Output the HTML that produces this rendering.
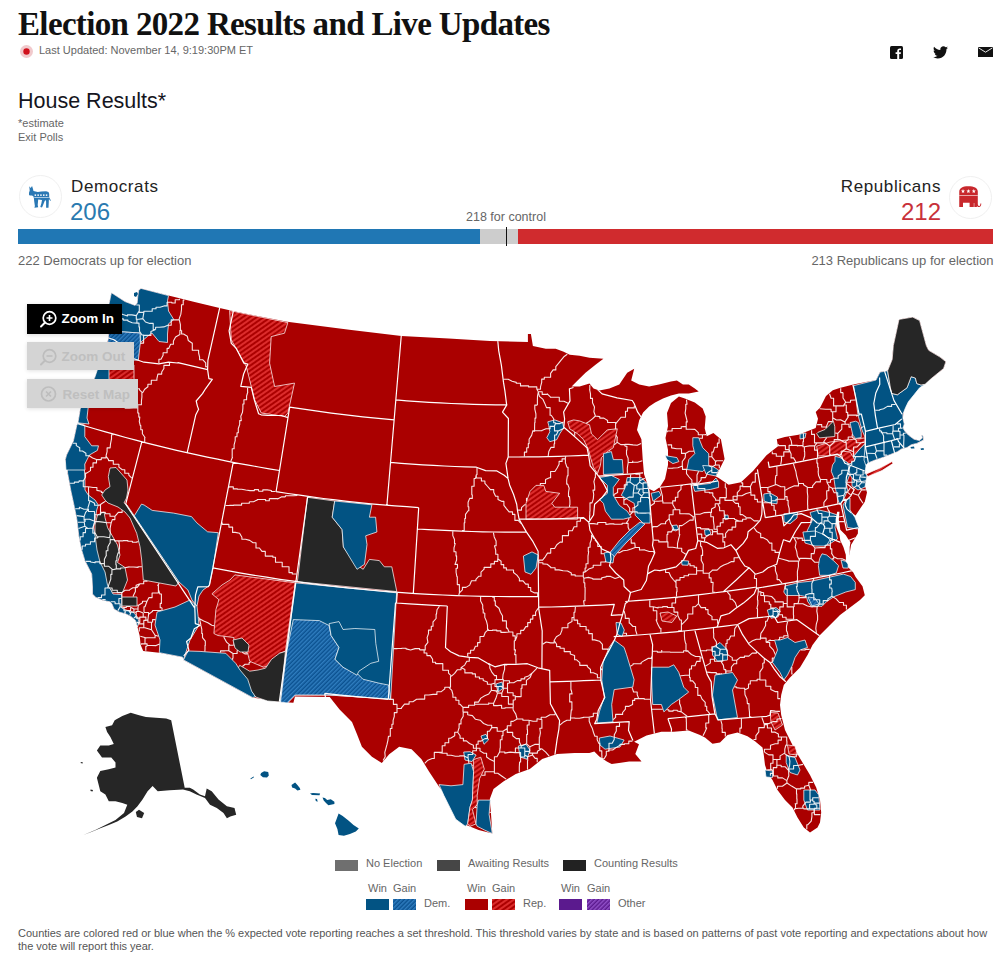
<!DOCTYPE html>
<html><head><meta charset="utf-8">
<style>
*{box-sizing:border-box;margin:0;padding:0}
html,body{width:1007px;height:960px;background:#fff;overflow:hidden}
body{position:relative;font-family:"Liberation Sans",sans-serif;color:#222}
.a{position:absolute;white-space:nowrap;line-height:1}
#map{position:absolute;left:0;top:0;width:1007px;height:960px}
.title{left:18px;top:7.5px;font-family:"Liberation Serif",serif;font-weight:bold;font-size:33px;color:#111;letter-spacing:-0.65px}
.upd{left:39px;top:45px;font-size:11px;color:#666}
.hr{left:18px;top:90.5px;font-size:21.5px;color:#151520}
.sm{font-size:11px;color:#666}
.party{font-size:17px;color:#222;letter-spacing:0.6px}
.num{font-size:24px}
.sub{font-size:13px;color:#666}
.bar{position:absolute;top:229px;height:15px}
.btn{position:absolute;left:27px;height:29px;font-size:14px;line-height:29px;}
.circ{position:absolute;width:43px;height:43px;border-radius:50%;border:1px solid #f0f0f0;background:#fff}
.leg{font-size:11px;color:#666}
.sw{position:absolute;height:11px}
</style></head><body>
<svg id="map" viewBox="0 0 1007 960">
<defs>
<pattern id="rs" patternUnits="userSpaceOnUse" width="4" height="8" patternTransform="rotate(55)"><rect width="4" height="8" fill="#ac0000"/><rect width="2" height="8" fill="#dc2c2c"/></pattern>
<pattern id="bs" patternUnits="userSpaceOnUse" width="3" height="6" patternTransform="rotate(45)"><rect width="3" height="6" fill="#0b5190"/><rect width="1.5" height="6" fill="#2f7dbf"/></pattern>
<pattern id="ps" patternUnits="userSpaceOnUse" width="3" height="6" patternTransform="rotate(45)"><rect width="3" height="6" fill="#5b1a8e"/><rect width="1.5" height="6" fill="#9050c8"/></pattern>
</defs>
<clipPath id="usclip"><path d="M111.4,292.7 L124.9,301.5 L135.2,305.4 L137.2,303.0 L137.8,296.0 L138.8,290.0 L141.0,288.4 L168.5,295.6 L194.6,301.9 L219.6,308.0 L234.0,311.2 L255.0,315.4 L287.2,321.8 L349.3,329.7 L401.4,335.9 L448.6,338.4 L490.0,341.1 L527.9,341.9 L527.9,333.9 L530.9,333.9 L532.9,345.9 L545.8,348.8 L555.7,348.8 L563.7,351.8 L569.7,354.8 L579.6,355.8 L589.5,357.8 L603.4,358.8 L595.5,364.7 L585.5,372.7 L577.6,380.6 L571.6,386.6 L579.6,386.6 L589.5,383.6 L593.5,388.6 L599.4,390.5 L609.4,388.6 L619.3,384.6 L627.2,372.7 L634.2,368.7 L631.2,380.6 L639.2,384.6 L649.1,386.6 L659.0,384.6 L670.9,381.6 L676.9,380.6 L682.9,384.6 L688.8,384.6 L694.8,388.6 L698.7,391.5 L688.8,393.5 L678.9,393.5 L670.9,395.5 L663.0,398.5 L655.1,402.5 L649.1,406.4 L643.1,412.4 L639.2,420.3 L637.0,430.0 L641.4,439.2 L642.7,459.0 L644.0,474.0 L648.9,488.8 L653.9,491.3 L660.0,487.0 L665.0,479.0 L668.0,465.0 L668.0,450.0 L665.5,438.0 L668.0,426.0 L667.0,413.0 L671.0,403.0 L678.9,396.5 L684.8,398.5 L694.8,402.5 L702.7,408.4 L705.7,416.4 L704.7,428.3 L706.7,436.2 L713.4,433.0 L720.9,439.2 L724.6,459.0 L720.9,466.5 L715.9,476.4 L718.7,478.0 L728.6,484.8 L741.0,482.3 L753.0,471.0 L766.5,455.3 L778.0,446.2 L776.8,439.3 L784.8,437.0 L798.5,434.8 L815.7,427.9 L818.0,418.8 L815.7,412.0 L820.2,407.4 L826.0,396.0 L832.8,390.2 L839.6,388.0 L853.3,384.5 L876.0,380.0 L880.0,372.0 L887.6,370.8 L892.2,359.4 L893.3,345.7 L899.0,319.4 L912.7,317.1 L919.6,320.6 L926.4,345.7 L928.7,350.3 L940.1,357.1 L945.9,361.7 L943.6,368.5 L931.0,378.8 L924.2,383.4 L919.6,386.8 L912.7,393.7 L908.2,400.5 L903.6,409.6 L902.9,418.4 L904.3,424.0 L902.9,428.1 L905.7,432.3 L908.4,435.1 L914.0,439.2 L919.6,440.6 L922.3,437.9 L921.5,435.0 L923.0,435.5 L923.5,440.0 L916.8,443.4 L911.2,444.8 L907.0,447.6 L901.5,449.0 L897.3,451.8 L890.4,454.5 L883.4,457.3 L875.1,460.1 L868.1,462.9 L865.3,465.7 L864.8,473.6 L867.0,474.3 L864.8,485.7 L867.0,492.5 L864.8,501.7 L860.2,508.5 L855.6,515.4 L851.0,512.0 L853.3,522.2 L857.9,526.8 L857.9,533.6 L851.0,545.0 L848.8,558.8 L844.2,563.3 L853.3,572.5 L855.6,577.0 L862.5,586.2 L864.8,595.3 L860.0,600.0 L850.0,607.5 L840.0,615.0 L830.0,625.0 L820.0,635.0 L812.5,645.0 L807.5,655.0 L800.0,667.5 L790.0,677.5 L783.8,685.0 L781.2,695.0 L780.0,705.0 L781.2,715.0 L785.0,730.0 L790.0,740.0 L795.0,750.0 L802.5,762.5 L810.0,775.0 L816.2,787.5 L820.0,800.0 L821.2,812.5 L820.0,822.5 L817.5,827.5 L810.0,832.5 L803.8,827.5 L797.5,817.5 L792.5,807.5 L785.0,800.0 L777.5,790.0 L772.5,780.0 L767.5,772.5 L765.0,765.0 L763.8,755.0 L762.5,747.5 L755.0,741.2 L747.5,736.2 L737.5,732.5 L727.5,735.0 L720.0,742.5 L712.5,743.8 L705.0,737.5 L700.0,735.0 L688.7,730.5 L673.8,731.8 L661.4,731.8 L646.5,735.5 L634.1,741.7 L639.0,744.2 L635.3,754.1 L641.5,761.6 L629.1,761.6 L611.7,764.1 L606.8,761.6 L599.3,756.6 L594.3,751.6 L589.4,752.9 L574.5,752.9 L557.1,754.1 L542.2,759.1 L529.8,769.0 L515.8,774.0 L503.4,781.5 L493.5,789.0 L489.8,798.9 L491.0,813.8 L492.3,833.6 L478.6,829.9 L466.2,825.0 L458.7,813.8 L448.8,798.9 L438.9,786.5 L429.0,771.6 L421.5,759.2 L411.6,749.2 L399.2,746.8 L389.2,754.2 L381.8,762.9 L371.9,756.7 L361.9,746.8 L357.0,734.3 L352.0,721.9 L339.6,709.5 L329.7,697.1 L295.0,696.6 L293.4,702.8 L280.9,701.9 L252.3,697.4 L183.5,659.9 L182.6,657.2 L159.3,652.7 L143.2,651.0 L140.6,644.7 L139.7,635.8 L137.5,627.0 L135.5,620.5 L131.0,616.5 L126.0,614.0 L119.0,612.0 L114.0,609.0 L112.0,604.0 L109.9,601.8 L103.0,600.5 L96.0,597.6 L92.5,594.0 L92.5,587.0 L91.7,574.1 L84.8,560.4 L81.3,548.9 L79.0,537.5 L77.9,528.3 L76.8,519.1 L74.5,507.7 L71.0,491.6 L67.6,473.3 L65.3,459.6 L66.5,455.0 L73.3,441.2 L76.8,425.2 L77.9,422.9 L80.2,409.2 L85.0,395.0 L94.6,377.9 L100.0,365.0 L108.0,340.0 L109.0,330.0 L109.0,304.0Z"/></clipPath>
<path d="M111.4,292.7 L124.9,301.5 L135.2,305.4 L137.2,303.0 L137.8,296.0 L138.8,290.0 L141.0,288.4 L168.5,295.6 L194.6,301.9 L219.6,308.0 L234.0,311.2 L255.0,315.4 L287.2,321.8 L349.3,329.7 L401.4,335.9 L448.6,338.4 L490.0,341.1 L527.9,341.9 L527.9,333.9 L530.9,333.9 L532.9,345.9 L545.8,348.8 L555.7,348.8 L563.7,351.8 L569.7,354.8 L579.6,355.8 L589.5,357.8 L603.4,358.8 L595.5,364.7 L585.5,372.7 L577.6,380.6 L571.6,386.6 L579.6,386.6 L589.5,383.6 L593.5,388.6 L599.4,390.5 L609.4,388.6 L619.3,384.6 L627.2,372.7 L634.2,368.7 L631.2,380.6 L639.2,384.6 L649.1,386.6 L659.0,384.6 L670.9,381.6 L676.9,380.6 L682.9,384.6 L688.8,384.6 L694.8,388.6 L698.7,391.5 L688.8,393.5 L678.9,393.5 L670.9,395.5 L663.0,398.5 L655.1,402.5 L649.1,406.4 L643.1,412.4 L639.2,420.3 L637.0,430.0 L641.4,439.2 L642.7,459.0 L644.0,474.0 L648.9,488.8 L653.9,491.3 L660.0,487.0 L665.0,479.0 L668.0,465.0 L668.0,450.0 L665.5,438.0 L668.0,426.0 L667.0,413.0 L671.0,403.0 L678.9,396.5 L684.8,398.5 L694.8,402.5 L702.7,408.4 L705.7,416.4 L704.7,428.3 L706.7,436.2 L713.4,433.0 L720.9,439.2 L724.6,459.0 L720.9,466.5 L715.9,476.4 L718.7,478.0 L728.6,484.8 L741.0,482.3 L753.0,471.0 L766.5,455.3 L778.0,446.2 L776.8,439.3 L784.8,437.0 L798.5,434.8 L815.7,427.9 L818.0,418.8 L815.7,412.0 L820.2,407.4 L826.0,396.0 L832.8,390.2 L839.6,388.0 L853.3,384.5 L876.0,380.0 L880.0,372.0 L887.6,370.8 L892.2,359.4 L893.3,345.7 L899.0,319.4 L912.7,317.1 L919.6,320.6 L926.4,345.7 L928.7,350.3 L940.1,357.1 L945.9,361.7 L943.6,368.5 L931.0,378.8 L924.2,383.4 L919.6,386.8 L912.7,393.7 L908.2,400.5 L903.6,409.6 L902.9,418.4 L904.3,424.0 L902.9,428.1 L905.7,432.3 L908.4,435.1 L914.0,439.2 L919.6,440.6 L922.3,437.9 L921.5,435.0 L923.0,435.5 L923.5,440.0 L916.8,443.4 L911.2,444.8 L907.0,447.6 L901.5,449.0 L897.3,451.8 L890.4,454.5 L883.4,457.3 L875.1,460.1 L868.1,462.9 L865.3,465.7 L864.8,473.6 L867.0,474.3 L864.8,485.7 L867.0,492.5 L864.8,501.7 L860.2,508.5 L855.6,515.4 L851.0,512.0 L853.3,522.2 L857.9,526.8 L857.9,533.6 L851.0,545.0 L848.8,558.8 L844.2,563.3 L853.3,572.5 L855.6,577.0 L862.5,586.2 L864.8,595.3 L860.0,600.0 L850.0,607.5 L840.0,615.0 L830.0,625.0 L820.0,635.0 L812.5,645.0 L807.5,655.0 L800.0,667.5 L790.0,677.5 L783.8,685.0 L781.2,695.0 L780.0,705.0 L781.2,715.0 L785.0,730.0 L790.0,740.0 L795.0,750.0 L802.5,762.5 L810.0,775.0 L816.2,787.5 L820.0,800.0 L821.2,812.5 L820.0,822.5 L817.5,827.5 L810.0,832.5 L803.8,827.5 L797.5,817.5 L792.5,807.5 L785.0,800.0 L777.5,790.0 L772.5,780.0 L767.5,772.5 L765.0,765.0 L763.8,755.0 L762.5,747.5 L755.0,741.2 L747.5,736.2 L737.5,732.5 L727.5,735.0 L720.0,742.5 L712.5,743.8 L705.0,737.5 L700.0,735.0 L688.7,730.5 L673.8,731.8 L661.4,731.8 L646.5,735.5 L634.1,741.7 L639.0,744.2 L635.3,754.1 L641.5,761.6 L629.1,761.6 L611.7,764.1 L606.8,761.6 L599.3,756.6 L594.3,751.6 L589.4,752.9 L574.5,752.9 L557.1,754.1 L542.2,759.1 L529.8,769.0 L515.8,774.0 L503.4,781.5 L493.5,789.0 L489.8,798.9 L491.0,813.8 L492.3,833.6 L478.6,829.9 L466.2,825.0 L458.7,813.8 L448.8,798.9 L438.9,786.5 L429.0,771.6 L421.5,759.2 L411.6,749.2 L399.2,746.8 L389.2,754.2 L381.8,762.9 L371.9,756.7 L361.9,746.8 L357.0,734.3 L352.0,721.9 L339.6,709.5 L329.7,697.1 L295.0,696.6 L293.4,702.8 L280.9,701.9 L252.3,697.4 L183.5,659.9 L182.6,657.2 L159.3,652.7 L143.2,651.0 L140.6,644.7 L139.7,635.8 L137.5,627.0 L135.5,620.5 L131.0,616.5 L126.0,614.0 L119.0,612.0 L114.0,609.0 L112.0,604.0 L109.9,601.8 L103.0,600.5 L96.0,597.6 L92.5,594.0 L92.5,587.0 L91.7,574.1 L84.8,560.4 L81.3,548.9 L79.0,537.5 L77.9,528.3 L76.8,519.1 L74.5,507.7 L71.0,491.6 L67.6,473.3 L65.3,459.6 L66.5,455.0 L73.3,441.2 L76.8,425.2 L77.9,422.9 L80.2,409.2 L85.0,395.0 L94.6,377.9 L100.0,365.0 L108.0,340.0 L109.0,330.0 L109.0,304.0Z" fill="#aa0000" />
<path d="M114.7,720.3 L122.3,716.0 L130.7,712.7 L139.1,715.2 L145.9,716.9 L156.0,717.7 L166.2,718.6 L171.2,720.3 L184.7,787.8 L189.8,787.8 L193.2,789.5 L199.9,794.5 L205.0,796.2 L206.7,788.6 L211.7,791.2 L218.5,799.6 L226.9,806.3 L234.5,808.0 L236.2,814.8 L230.3,816.5 L226.9,818.2 L223.5,813.1 L216.8,808.0 L210.0,804.7 L205.0,797.9 L196.5,794.5 L189.8,791.2 L183.0,789.5 L169.5,790.3 L157.7,791.2 L152.6,786.1 L147.6,791.2 L142.5,799.6 L137.5,806.3 L132.4,811.4 L125.6,816.5 L117.2,821.5 L108.8,824.9 L100.3,828.3 L91.9,831.7 L83.4,835.0 L95.3,830.0 L105.4,824.9 L115.5,819.9 L124.0,813.1 L127.3,804.7 L122.3,803.0 L115.5,801.3 L108.8,801.3 L105.4,794.5 L100.3,791.2 L98.6,784.4 L96.9,777.7 L100.3,770.9 L108.8,769.2 L115.5,767.5 L115.5,762.5 L111.3,757.4 L102.0,757.4 L96.9,750.6 L100.3,745.6 L108.8,745.6 L113.8,743.9 L110.4,737.1 L107.1,732.1 L105.4,727.0 L112.1,725.3Z" fill="#262626" />
<path d="M135.8,812.0 L139.0,809.7 L144.2,813.0 L142.0,818.2 L137.0,817.0Z" fill="#262626" />
<path d="M81.0,762.0 L83.0,762.5 L82.5,763.5 L80.5,763.0Z" fill="#262626" />
<path d="M90.5,789.5 L93.0,790.0 L92.5,791.5 L90.5,791.0Z" fill="#262626" />
<path d="M111.4,292.7 L124.9,301.5 L135.2,305.4 L137.2,303.0 L137.8,296.0 L138.8,290.0 L141.0,288.4 L168.5,295.6 L167.5,300.8 L168.5,311.0 L173.8,319.6 L168.5,323.8 L167.5,334.0 L167.5,342.5 L159.0,341.5 L151.9,333.0 L147.7,336.2 L140.4,342.5 L140.0,333.0 L109.0,331.0 L109.0,304.0Z" fill="#025383" stroke="#fff" stroke-width="0.8" stroke-opacity="0.9" stroke-linejoin="round"/>
<path d="M109.0,331.0 L140.0,333.0 L140.4,342.5 L139.4,350.8 L138.3,360.2 L105.0,360.0 L108.0,340.0Z" fill="url(#bs)" stroke="#fff" stroke-width="0.8" stroke-opacity="0.9" stroke-linejoin="round"/>
<path d="M100.0,362.0 L110.0,362.0 L110.0,380.0 L92.0,380.0 L88.0,409.0 L87.0,418.0 L89.0,424.0 L77.9,422.9 L80.2,409.2 L85.0,395.0 L94.6,377.9Z" fill="#025383" stroke="#fff" stroke-width="0.8" stroke-opacity="0.9" stroke-linejoin="round"/>
<path d="M109.0,365.0 L134.0,365.0 L134.0,381.0 L109.0,381.0Z" fill="url(#rs)" stroke="#fff" stroke-width="0.8" stroke-opacity="0.9" stroke-linejoin="round"/>
<path d="M229.6,310.6 L287.9,322.6 L284.5,333.2 L271.2,336.6 L269.6,363.2 L274.6,386.5 L294.5,383.1 L287.9,413.0 L284.5,416.4 L261.3,413.0 L254.6,399.8 L251.3,386.5 L246.3,366.5 L231.3,339.9Z" fill="url(#rs)" stroke="#fff" stroke-width="0.8" stroke-opacity="0.9" stroke-linejoin="round"/>
<path d="M66.7,460.0 L85.0,460.0 L84.2,466.7 L85.0,480.0 L85.0,490.0 L88.3,495.0 L95.0,500.0 L98.3,505.0 L96.7,510.0 L95.0,520.0 L93.3,526.7 L95.0,535.0 L98.3,543.3 L100.0,553.3 L103.3,563.3 L105.0,568.3 L106.7,576.7 L110.0,583.3 L111.7,591.7 L113.0,594.0 L121.7,594.5 L121.7,608.0 L126.0,610.0 L133.0,612.0 L137.5,617.0 L139.0,622.0 L137.5,627.0 L135.5,620.5 L131.0,616.5 L126.0,614.0 L119.0,612.0 L114.0,609.0 L112.0,604.0 L109.9,601.8 L103.0,600.5 L96.0,597.6 L92.5,594.0 L92.5,587.0 L91.7,574.1 L84.8,560.4 L81.3,548.9 L79.0,537.5 L77.9,528.3 L76.8,519.1 L74.5,507.7 L71.0,491.6 L67.6,473.3Z" fill="#025383" stroke="#fff" stroke-width="0.8" stroke-opacity="0.9" stroke-linejoin="round"/>
<path d="M77.9,422.9 L84.8,425.2 L84.8,436.7 L91.7,445.8 L98.5,445.8 L97.4,450.4 L89.4,455.0 L84.8,464.1 L85.0,470.0 L66.0,470.0 L65.3,459.6 L66.5,455.0 L73.3,441.2 L76.8,425.2Z" fill="#025383" stroke="#fff" stroke-width="0.8" stroke-opacity="0.9" stroke-linejoin="round"/>
<path d="M110.0,468.0 L116.0,467.5 L127.0,480.0 L128.0,490.0 L126.5,498.0 L124.0,503.0 L127.0,505.0 L179.0,582.0 L176.0,586.0 L143.3,580.0 L141.7,560.0 L140.0,546.7 L136.7,533.3 L130.0,518.0 L125.0,512.0 L118.0,507.0 L108.0,503.0 L105.0,500.0 L101.7,495.0 L105.0,490.0 L110.0,486.7 L108.3,476.7Z" fill="#262626" stroke="#fff" stroke-width="0.8" stroke-opacity="0.9" stroke-linejoin="round"/>
<path d="M97.5,515.0 L104.0,512.0 L105.0,517.5 L107.5,527.5 L117.5,545.0 L120.0,555.0 L117.5,562.5 L125.0,567.5 L127.5,580.0 L122.5,592.5 L112.5,592.5 L107.5,585.0 L105.0,572.0 L100.0,562.0 L97.0,550.0 L95.0,535.0 L95.0,525.0Z" fill="#262626" stroke="#fff" stroke-width="0.8" stroke-opacity="0.9" stroke-linejoin="round"/>
<path d="M122.0,597.0 L137.0,597.0 L137.0,606.0 L122.0,606.0Z" fill="#262626" stroke="#fff" stroke-width="0.8" stroke-opacity="0.9" stroke-linejoin="round"/>
<path d="M134.3,515.8 L141.5,504.1 L144.1,505.0 L152.2,510.4 L173.6,513.1 L191.5,516.6 L196.9,522.9 L207.6,531.8 L218.3,532.7 L213.0,568.5 L209.4,585.5 L203.0,590.0 L199.0,596.0 L197.0,606.0 L192.0,600.0 L187.9,590.0 L179.0,582.0Z" fill="#025383" stroke="#fff" stroke-width="0.8" stroke-opacity="0.9" stroke-linejoin="round"/>
<path d="M157.0,612.0 L175.0,607.0 L190.0,600.0 L197.0,606.0 L199.0,625.0 L190.0,640.0 L186.0,652.0 L183.5,659.9 L182.6,657.2 L159.3,652.7 L160.0,640.0 L155.0,625.0Z" fill="#025383" stroke="#fff" stroke-width="0.8" stroke-opacity="0.9" stroke-linejoin="round"/>
<path d="M234.8,574.9 L295.3,582.8 L285.4,651.4 L279.4,653.3 L277.5,663.3 L269.5,665.3 L263.6,667.2 L249.7,661.3 L247.7,653.3 L233.8,645.4 L233.8,637.5 L217.9,635.5 L213.9,633.5 L215.9,609.7 L218.9,599.7 L211.9,593.8 L222.0,585.0 L230.0,580.0Z" fill="url(#rs)" stroke="#fff" stroke-width="0.8" stroke-opacity="0.9" stroke-linejoin="round"/>
<path d="M239.7,665.3 L249.7,671.2 L258.0,670.0 L265.5,668.2 L271.5,659.3 L279.4,653.3 L285.4,651.4 L280.5,702.0 L267.5,701.0 L255.6,697.0 L247.7,687.1 L243.7,679.2 L237.7,669.2Z" fill="#262626" stroke="#fff" stroke-width="0.8" stroke-opacity="0.9" stroke-linejoin="round"/>
<path d="M233.0,640.0 L242.0,638.0 L249.0,645.0 L248.0,652.0 L240.0,652.0 L235.0,648.0Z" fill="#262626" stroke="#fff" stroke-width="0.8" stroke-opacity="0.9" stroke-linejoin="round"/>
<path d="M183.5,659.9 L188.0,651.0 L200.0,651.4 L225.8,653.3 L235.7,663.3 L240.0,670.0 L247.7,679.2 L251.6,691.1 L255.6,697.0 L252.3,697.4Z" fill="#025383" stroke="#fff" stroke-width="0.8" stroke-opacity="0.9" stroke-linejoin="round"/>
<path d="M295.3,582.8 L396.6,592.8 L390.7,699.0 L329.1,695.0 L295.3,695.0 L293.3,697.0 L287.4,703.0 L280.5,702.0Z" fill="#025383" stroke="#fff" stroke-width="0.8" stroke-opacity="0.9" stroke-linejoin="round"/>
<path d="M293.3,619.6 L319.2,620.6 L329.1,625.5 L331.1,635.5 L339.0,647.4 L335.0,659.3 L343.0,667.2 L356.9,673.2 L362.9,679.2 L378.7,683.1 L388.7,685.1 L390.7,699.0 L329.1,695.0 L295.3,695.0 L293.3,697.0 L287.4,703.0 L280.5,702.0 L287.0,650.0Z" fill="url(#bs)" stroke="#fff" stroke-width="0.8" stroke-opacity="0.9" stroke-linejoin="round"/>
<path d="M329.1,623.6 L339.0,621.6 L343.0,629.5 L354.9,628.5 L374.8,629.5 L375.8,643.4 L378.7,661.3 L370.8,663.3 L358.9,671.2 L356.9,675.2 L343.0,667.2 L335.0,659.3 L339.0,647.4 L331.1,635.5Z" fill="#025383" stroke="#fff" stroke-width="0.8" stroke-opacity="0.9" stroke-linejoin="round"/>
<path d="M307.4,497.3 L334.7,501.0 L332.2,517.2 L342.1,529.6 L343.4,547.0 L355.8,564.3 L363.2,569.3 L369.4,559.4 L379.4,560.6 L384.3,566.8 L391.8,566.8 L394.3,579.2 L396.8,591.6 L297.4,581.7Z" fill="#262626" stroke="#fff" stroke-width="0.8" stroke-opacity="0.9" stroke-linejoin="round"/>
<path d="M334.7,501.0 L371.9,504.8 L369.4,517.2 L375.6,517.2 L376.9,532.0 L365.7,535.8 L367.0,544.5 L364.5,564.3 L357.0,569.3 L343.4,547.0 L342.1,529.6 L332.2,517.2Z" fill="#025383" stroke="#fff" stroke-width="0.8" stroke-opacity="0.9" stroke-linejoin="round"/>
<path d="M547.8,421.8 L554.8,419.9 L562.7,422.8 L563.7,427.8 L559.7,433.8 L556.7,439.7 L549.8,441.7 L546.8,437.7 L549.8,431.8 L548.8,425.8Z" fill="#025383" stroke="#fff" stroke-width="0.8" stroke-opacity="0.9" stroke-linejoin="round"/>
<path d="M573.6,419.9 L579.6,420.9 L589.5,424.8 L591.5,433.8 L597.5,439.7 L607.4,429.8 L617.3,428.8 L613.3,447.7 L607.4,451.6 L601.4,457.6 L600.4,465.5 L597.5,473.5 L593.5,467.5 L590.5,457.6 L588.5,449.7 L583.6,439.7 L577.6,433.8 L569.7,428.8 L567.7,421.8Z" fill="url(#rs)" stroke="#fff" stroke-width="0.8" stroke-opacity="0.9" stroke-linejoin="round"/>
<path d="M603.4,453.6 L611.4,451.6 L613.3,459.6 L622.3,459.6 L623.3,473.5 L603.4,474.5Z" fill="#025383" stroke="#fff" stroke-width="0.8" stroke-opacity="0.9" stroke-linejoin="round"/>
<path d="M535.9,485.4 L543.8,485.4 L545.8,491.4 L559.7,493.3 L551.8,503.3 L554.8,507.2 L577.6,507.2 L577.6,519.2 L526.0,519.2 L526.0,503.3 L530.0,491.4Z" fill="url(#rs)" stroke="#fff" stroke-width="0.8" stroke-opacity="0.9" stroke-linejoin="round"/>
<path d="M599.4,477.5 L611.4,475.5 L619.3,479.4 L613.3,487.4 L613.3,495.3 L619.3,505.3 L627.2,511.2 L631.2,517.2 L623.3,519.2 L611.4,519.2 L605.4,511.2 L603.4,503.3 L599.4,499.3 L607.4,493.3 L607.4,485.4Z" fill="#025383" stroke="#fff" stroke-width="0.8" stroke-opacity="0.9" stroke-linejoin="round"/>
<path d="M627.2,477.5 L641.2,477.5 L647.1,483.4 L649.1,491.4 L650.1,505.3 L650.1,523.1 L643.1,523.1 L635.2,515.2 L634.2,503.3 L627.2,499.3 L621.3,495.3 L625.3,487.4Z" fill="#025383" stroke="#fff" stroke-width="0.8" stroke-opacity="0.9" stroke-linejoin="round"/>
<path d="M607.0,556.0 L612.0,550.0 L620.0,540.0 L630.0,530.0 L640.0,522.0 L645.0,524.0 L636.0,533.0 L626.0,543.0 L617.0,553.0 L611.0,561.0Z" fill="url(#bs)" stroke="#fff" stroke-width="0.8" stroke-opacity="0.9" stroke-linejoin="round"/>
<path d="M651.1,493.3 L659.0,491.4 L661.0,495.3 L653.0,501.3Z" fill="#025383" stroke="#fff" stroke-width="0.8" stroke-opacity="0.9" stroke-linejoin="round"/>
<path d="M692.8,437.7 L698.7,437.7 L702.7,447.7 L708.7,453.6 L708.7,465.5 L702.7,471.5 L686.8,469.5 L688.8,459.6 L694.8,453.6 L692.8,445.7Z" fill="#025383" stroke="#fff" stroke-width="0.8" stroke-opacity="0.9" stroke-linejoin="round"/>
<path d="M665.0,455.6 L676.9,457.6 L678.9,461.6 L672.9,463.6 L667.0,459.6Z" fill="#025383" stroke="#fff" stroke-width="0.8" stroke-opacity="0.9" stroke-linejoin="round"/>
<path d="M692.8,485.4 L710.7,483.4 L716.0,478.0 L718.6,482.0 L718.6,487.4 L710.7,489.4 L694.8,491.4Z" fill="#025383" stroke="#fff" stroke-width="0.8" stroke-opacity="0.9" stroke-linejoin="round"/>
<path d="M702.7,465.5 L712.0,466.0 L718.6,470.0 L716.0,476.0 L706.0,474.0Z" fill="#025383" stroke="#fff" stroke-width="0.8" stroke-opacity="0.9" stroke-linejoin="round"/>
<path d="M818.0,432.3 L825.0,429.5 L829.2,425.3 L833.4,421.2 L834.8,426.7 L834.8,436.5 L819.5,437.9 L816.7,433.7Z" fill="#262626" stroke="#fff" stroke-width="0.8" stroke-opacity="0.9" stroke-linejoin="round"/>
<path d="M816.7,446.2 L830.0,442.0 L841.7,440.6 L865.3,437.9 L865.3,443.4 L859.8,449.0 L852.8,457.3 L848.7,460.1 L841.7,454.5 L827.8,455.9 L818.0,455.9Z" fill="url(#rs)" stroke="#fff" stroke-width="0.8" stroke-opacity="0.9" stroke-linejoin="round"/>
<path d="M850.0,422.6 L855.6,421.2 L858.4,422.6 L861.2,432.3 L861.2,437.5 L855.6,438.5 L852.8,435.1Z" fill="#025383" stroke="#fff" stroke-width="0.8" stroke-opacity="0.9" stroke-linejoin="round"/>
<path d="M853.5,385.7 L876.0,380.0 L880.0,372.0 L883.4,371.5 L887.6,370.8 L890.4,387.8 L891.8,393.4 L897.3,394.8 L907.0,387.8 L911.2,376.7 L915.4,378.1 L916.8,383.6 L921.0,385.0 L925.1,384.3 L919.6,387.8 L914.0,394.8 L908.4,401.7 L905.7,407.3 L902.9,414.2 L902.9,418.4 L904.3,424.0 L902.9,428.1 L905.7,432.3 L908.4,435.1 L914.0,439.2 L919.6,440.6 L922.3,437.9 L921.5,435.0 L923.0,435.5 L923.5,440.0 L916.8,443.4 L911.2,444.8 L907.0,447.6 L901.5,449.0 L897.3,451.8 L890.4,454.5 L883.4,457.3 L875.1,460.1 L868.1,462.9 L865.3,465.7 L864.8,473.6 L860.0,470.0 L865.3,443.4 L865.3,437.9 L862.0,430.0 L858.0,415.0 L856.0,400.0Z" fill="#025383" stroke="#fff" stroke-width="0.8" stroke-opacity="0.9" stroke-linejoin="round"/>
<path d="M800.0,434.0 L806.0,433.0 L805.0,438.0 L800.0,439.0Z" fill="#025383" stroke="#fff" stroke-width="0.8" stroke-opacity="0.9" stroke-linejoin="round"/>
<path d="M848.7,460.1 L852.8,457.3 L859.8,449.0 L865.3,443.4 L864.0,460.0 L866.0,466.0 L864.8,473.6 L867.0,474.3 L866.0,481.0 L858.0,482.0 L852.0,478.0 L847.0,470.0 L844.0,463.0Z" fill="#025383" stroke="#fff" stroke-width="0.8" stroke-opacity="0.9" stroke-linejoin="round"/>
<path d="M841.0,451.0 L850.0,452.0 L855.0,460.0 L850.0,463.8 L843.0,462.0Z" fill="url(#rs)" stroke="#fff" stroke-width="0.8" stroke-opacity="0.9" stroke-linejoin="round"/>
<path d="M835.0,456.3 L840.0,457.5 L847.5,462.5 L848.8,468.8 L850.0,473.8 L846.3,483.8 L847.5,490.0 L845.0,496.3 L841.3,502.5 L840.0,505.0 L837.5,498.8 L836.3,492.5 L835.0,486.3 L833.8,477.5 L831.3,471.3 L832.5,465.0 L835.0,461.3Z" fill="#025383" stroke="#fff" stroke-width="0.8" stroke-opacity="0.9" stroke-linejoin="round"/>
<path d="M852.0,478.0 L858.0,482.0 L866.0,481.0 L865.0,487.0 L858.0,490.0 L852.0,486.0Z" fill="#025383" stroke="#fff" stroke-width="0.8" stroke-opacity="0.9" stroke-linejoin="round"/>
<path d="M846.0,500.0 L850.0,498.0 L850.0,510.0 L855.0,517.5 L858.8,527.5 L857.5,529.0 L847.5,527.5 L845.0,515.0 L843.0,505.0Z" fill="#025383" stroke="#fff" stroke-width="0.8" stroke-opacity="0.9" stroke-linejoin="round"/>
<path d="M763.8,494.0 L770.0,493.0 L777.5,497.0 L777.0,503.8 L770.0,503.0 L764.0,501.0Z" fill="#025383" stroke="#fff" stroke-width="0.8" stroke-opacity="0.9" stroke-linejoin="round"/>
<path d="M810.0,512.5 L818.8,510.0 L830.0,512.5 L837.5,515.0 L835.0,527.5 L837.5,538.8 L830.0,543.8 L825.0,545.0 L815.0,542.5 L805.0,538.8 L807.5,530.0 L812.5,520.0Z" fill="#025383" stroke="#fff" stroke-width="0.8" stroke-opacity="0.9" stroke-linejoin="round"/>
<path d="M783.8,513.8 L797.5,512.5 L797.0,518.0 L790.0,523.8 L784.0,522.0Z" fill="#025383" stroke="#fff" stroke-width="0.8" stroke-opacity="0.9" stroke-linejoin="round"/>
<path d="M802.9,532.0 L815.0,531.0 L825.0,535.0 L830.0,540.0 L826.0,546.0 L815.0,546.0 L805.0,543.0Z" fill="#025383" stroke="#fff" stroke-width="0.8" stroke-opacity="0.9" stroke-linejoin="round"/>
<path d="M822.0,553.8 L826.7,555.0 L833.9,561.0 L838.6,565.7 L836.3,572.9 L829.1,575.3 L819.6,575.3 L818.4,565.7 L819.6,558.6Z" fill="#025383" stroke="#fff" stroke-width="0.8" stroke-opacity="0.9" stroke-linejoin="round"/>
<path d="M841.0,560.0 L848.0,562.0 L848.2,568.1 L843.0,568.0Z" fill="#025383" stroke="#fff" stroke-width="0.8" stroke-opacity="0.9" stroke-linejoin="round"/>
<path d="M785.0,586.0 L799.3,582.4 L811.2,581.2 L843.4,574.1 L850.6,576.5 L855.3,582.4 L855.3,589.6 L845.8,592.0 L833.9,596.7 L826.7,601.5 L822.0,606.3 L811.2,606.3 L807.7,601.5 L806.5,596.7 L800.5,595.5 L786.2,595.5 L783.8,592.0Z" fill="#025383" stroke="#fff" stroke-width="0.8" stroke-opacity="0.9" stroke-linejoin="round"/>
<path d="M808.0,597.0 L815.0,598.0 L819.0,604.0 L812.0,606.0Z" fill="url(#bs)" stroke="#fff" stroke-width="0.8" stroke-opacity="0.9" stroke-linejoin="round"/>
<path d="M769.5,609.0 L776.0,607.5 L780.3,611.0 L778.0,617.0 L771.0,618.2Z" fill="#025383" stroke="#fff" stroke-width="0.8" stroke-opacity="0.9" stroke-linejoin="round"/>
<path d="M767.3,610.0 L774.0,608.2 L779.3,612.0 L776.0,617.7 L769.0,616.0Z" fill="#025383" stroke="#fff" stroke-width="0.8" stroke-opacity="0.9" stroke-linejoin="round"/>
<path d="M774.5,640.0 L780.0,640.0 L787.5,637.5 L795.0,642.5 L805.0,640.0 L807.5,647.5 L800.0,650.0 L795.0,657.5 L792.5,665.0 L787.5,675.0 L783.8,680.0 L780.0,672.5 L772.5,662.5 L777.5,650.0Z" fill="#025383" stroke="#fff" stroke-width="0.8" stroke-opacity="0.9" stroke-linejoin="round"/>
<path d="M712.5,647.5 L720.0,642.5 L727.5,650.0 L727.5,660.0 L717.5,661.2 L712.5,655.0Z" fill="#025383" stroke="#fff" stroke-width="0.8" stroke-opacity="0.9" stroke-linejoin="round"/>
<path d="M715.0,675.0 L732.5,672.5 L737.5,680.0 L732.5,690.0 L737.5,717.5 L717.5,720.0 L712.5,695.0Z" fill="#025383" stroke="#fff" stroke-width="0.8" stroke-opacity="0.9" stroke-linejoin="round"/>
<path d="M651.4,667.2 L668.8,667.2 L673.8,664.8 L678.7,672.2 L683.7,687.1 L688.7,692.1 L678.7,699.5 L671.3,704.5 L663.9,711.9 L661.4,704.5 L652.7,704.5 L651.9,687.1Z" fill="#025383" stroke="#fff" stroke-width="0.8" stroke-opacity="0.9" stroke-linejoin="round"/>
<path d="M614.2,640.0 L624.1,647.4 L626.6,654.8 L634.1,679.7 L632.8,687.1 L614.2,689.6 L611.7,704.5 L613.0,721.9 L596.8,723.1 L599.3,711.9 L604.3,697.0 L601.8,679.7 L603.0,662.3 L609.2,647.4Z" fill="#025383" stroke="#fff" stroke-width="0.8" stroke-opacity="0.9" stroke-linejoin="round"/>
<path d="M616.0,622.5 L621.0,623.0 L624.3,630.0 L622.0,636.8 L617.0,634.0Z" fill="#025383" stroke="#fff" stroke-width="0.8" stroke-opacity="0.9" stroke-linejoin="round"/>
<path d="M604.0,553.0 L609.0,552.0 L614.0,556.0 L613.0,563.0 L606.0,562.0Z" fill="#025383" stroke="#fff" stroke-width="0.8" stroke-opacity="0.9" stroke-linejoin="round"/>
<path d="M672.0,525.5 L677.0,525.0 L678.5,529.0 L676.0,531.0 L672.5,530.0Z" fill="#025383" stroke="#fff" stroke-width="0.8" stroke-opacity="0.9" stroke-linejoin="round"/>
<path d="M704.5,530.0 L709.0,529.5 L711.0,533.0 L708.0,536.0 L705.0,535.0Z" fill="#025383" stroke="#fff" stroke-width="0.8" stroke-opacity="0.9" stroke-linejoin="round"/>
<path d="M724.0,515.5 L728.0,515.0 L728.5,519.0 L725.0,519.7Z" fill="#025383" stroke="#fff" stroke-width="0.8" stroke-opacity="0.9" stroke-linejoin="round"/>
<path d="M660.0,613.0 L668.0,612.0 L676.8,616.0 L672.0,622.5 L662.0,621.0Z" fill="url(#rs)" stroke="#fff" stroke-width="0.8" stroke-opacity="0.9" stroke-linejoin="round"/>
<path d="M786.2,755.0 L795.0,757.5 L800.0,770.0 L797.5,775.0 L790.0,772.5 L786.2,762.5Z" fill="#025383" stroke="#fff" stroke-width="0.8" stroke-opacity="0.9" stroke-linejoin="round"/>
<path d="M803.8,790.0 L815.0,790.0 L818.8,795.0 L820.0,810.0 L807.5,810.0 L803.8,800.0Z" fill="#025383" stroke="#fff" stroke-width="0.8" stroke-opacity="0.9" stroke-linejoin="round"/>
<path d="M765.0,770.0 L772.5,771.0 L772.5,777.5 L766.0,777.0Z" fill="#025383" stroke="#fff" stroke-width="0.8" stroke-opacity="0.9" stroke-linejoin="round"/>
<path d="M770.0,712.5 L778.0,713.0 L782.5,725.0 L775.0,730.0 L771.0,722.0Z" fill="url(#rs)" stroke="#fff" stroke-width="0.8" stroke-opacity="0.9" stroke-linejoin="round"/>
<path d="M787.5,745.0 L795.0,746.0 L797.5,755.0 L789.0,754.0Z" fill="url(#rs)" stroke="#fff" stroke-width="0.8" stroke-opacity="0.9" stroke-linejoin="round"/>
<path d="M681.5,560.5 L688.7,561.0 L688.0,565.3 L682.0,565.0Z" fill="#025383" stroke="#fff" stroke-width="0.8" stroke-opacity="0.9" stroke-linejoin="round"/>
<path d="M599.3,738.0 L610.0,736.0 L624.1,740.0 L620.0,747.0 L605.0,749.2 L600.0,745.0Z" fill="#025383" stroke="#fff" stroke-width="0.8" stroke-opacity="0.9" stroke-linejoin="round"/>
<path d="M439.0,784.6 L451.0,785.8 L462.9,784.6 L464.1,764.3 L471.2,763.2 L473.6,771.5 L472.4,800.1 L470.0,807.2 L467.7,823.9 L465.3,826.3 L455.7,819.2 L448.6,804.9 L443.8,795.3Z" fill="#025383" stroke="#fff" stroke-width="0.8" stroke-opacity="0.9" stroke-linejoin="round"/>
<path d="M473.6,759.6 L480.8,757.2 L484.3,769.1 L479.6,778.6 L477.2,795.3 L477.2,804.9 L472.4,809.6 L476.0,823.9 L470.0,826.3 L467.7,823.9 L470.0,807.2 L472.4,800.1 L473.6,771.5Z" fill="url(#rs)" stroke="#fff" stroke-width="0.8" stroke-opacity="0.9" stroke-linejoin="round"/>
<path d="M478.4,800.1 L490.3,800.1 L489.1,814.4 L492.3,833.6 L484.3,829.9 L477.2,826.3 L476.0,823.9 L477.2,804.9Z" fill="#025383" stroke="#fff" stroke-width="0.8" stroke-opacity="0.9" stroke-linejoin="round"/>
<path d="M463.7,752.0 L470.0,751.7 L476.1,755.0 L472.0,761.6 L465.0,760.0Z" fill="#025383" stroke="#fff" stroke-width="0.8" stroke-opacity="0.9" stroke-linejoin="round"/>
<path d="M481.0,736.0 L486.0,734.3 L488.5,740.0 L484.0,744.3Z" fill="#025383" stroke="#fff" stroke-width="0.8" stroke-opacity="0.9" stroke-linejoin="round"/>
<path d="M518.3,746.0 L526.0,744.3 L530.0,750.0 L527.0,759.2 L520.0,757.0Z" fill="#025383" stroke="#fff" stroke-width="0.8" stroke-opacity="0.9" stroke-linejoin="round"/>
<path d="M496.0,684.0 L502.0,682.0 L503.4,688.0 L498.0,692.1Z" fill="#025383" stroke="#fff" stroke-width="0.8" stroke-opacity="0.9" stroke-linejoin="round"/>
<path d="M523.4,556.0 L532.0,551.9 L538.3,555.0 L536.0,568.0 L531.0,574.3 L525.0,572.0Z" fill="#025383" stroke="#fff" stroke-width="0.8" stroke-opacity="0.9" stroke-linejoin="round"/>
<path d="M866.0,474.0 L880.0,468.0 L892.0,461.5 L893.0,463.5 L882.0,470.5 L868.0,476.5Z" fill="url(#rs)" stroke="#fff" stroke-width="0.8" stroke-opacity="0.9" stroke-linejoin="round"/>
<path d="M887.6,370.8 L892.2,359.4 L893.3,345.7 L899.0,319.4 L912.7,317.1 L919.6,320.6 L926.4,345.7 L928.7,350.3 L940.1,357.1 L945.9,361.7 L943.6,368.5 L931.0,378.8 L925.1,384.3 L921.0,385.0 L916.8,383.6 L915.4,378.1 L911.2,376.7 L907.0,387.8 L897.3,394.8 L891.8,393.4 L890.4,387.8Z" fill="#262626" stroke="#fff" stroke-width="0.8" stroke-opacity="0.9" stroke-linejoin="round"/>
<g clip-path="url(#usclip)"><path d="M106.3,337.2 L114.0,339.8 L118.5,342.9 L122.4,345.6 L122.4,350.7 L121.7,355.3 L126.4,358.5 L134.0,358.8 L143.9,362.2 L148.4,362.6 L158.9,363.8 L168.5,362.1 L177.5,363.0 L177.9,362.7 L207.6,369.7 M219.8,307.3 L207.9,360.4 L207.6,369.7 L208.9,378.7 L212.3,379.4 L205.5,388.8 L202.5,393.6 L196.2,401.0 L197.4,406.1 L198.6,409.2 L195.7,415.1 L187.2,452.7 M75.3,422.9 L85.3,426.0 L95.4,429.0 L105.5,431.9 L115.6,434.7 L125.7,437.5 L135.8,440.2 L146.0,442.8 L156.2,445.4 L166.4,447.9 L176.6,450.3 L186.8,452.6 L197.1,454.9 L207.3,457.1 L217.6,459.2 L227.9,461.3 L238.2,463.3 L248.5,465.2 L258.8,467.0 L269.2,468.8 L279.5,470.5 M141.8,441.8 L125.7,504.2 L194.8,608.2 M212.8,567.8 L209.5,584.7 L208.3,586.7 L197.8,586.8 L195.5,595.1 L194.8,608.2 L195.0,612.6 L195.3,623.6 L200.3,625.2 L194.3,628.8 L190.9,638.0 L186.6,641.5 L188.9,650.1 L183.7,655.8 M233.2,462.3 L212.8,567.8 M212.8,567.8 L226.2,570.4 L239.6,572.8 L253.1,575.1 L266.5,577.2 L280.0,579.3 L293.5,581.2 L307.1,583.1 L320.6,584.8 L334.1,586.4 L347.7,587.9 L361.3,589.2 L374.9,590.5 L388.5,591.6 L402.1,592.6 L415.7,593.6 L429.3,594.3 L442.9,595.0 L456.5,595.6 L470.2,596.0 L483.8,596.3 L497.5,596.5 L511.1,596.6 L524.7,596.6 L538.4,596.5 M307.7,496.4 L278.9,704.9 M397.3,592.3 L396.5,603.0 L395.5,603.0 L388.3,699.3 M324.6,693.3 L340.5,695.1 L356.4,696.6 L372.4,698.0 L388.3,699.3 M396.5,603.0 L409.2,603.9 L421.9,604.7 L434.6,605.4 L447.3,606.0 M447.3,606.0 L445.5,647.6 L450.6,651.7 L459.2,655.9 L469.6,657.3 L478.4,657.9 L487.1,663.0 L494.9,666.8 L504.6,664.3 L515.1,664.3 L527.4,663.7 L538.0,667.8 L549.7,670.4 L549.9,681.8 L550.4,703.8 L554.9,712.1 L559.6,720.5 L558.9,729.1 L557.0,739.8 L554.9,754.8 M549.9,681.8 L558.4,681.6 L566.9,681.4 L575.4,681.1 L583.9,680.7 L592.4,680.4 L600.8,680.0 M600.8,680.0 L603.6,692.1 L604.8,697.4 L598.2,710.5 L596.8,719.2 L594.7,723.6 L629.2,721.6 L628.5,730.2 L632.9,740.6 M538.5,607.2 L542.2,630.8 L541.9,668.6 M538.5,607.2 L551.2,607.0 L563.8,606.7 L576.4,606.2 L589.1,605.7 L601.7,605.1 L614.3,604.3 L611.2,615.3 L622.6,614.6 M622.6,614.6 L619.8,623.4 L617.0,634.3 L614.0,641.0 L609.3,649.9 L604.5,658.7 L600.6,667.5 L600.8,680.0 M588.8,522.2 L590.0,530.3 L594.8,538.7 L601.9,549.0 L610.3,552.9 L611.0,559.3 L609.5,565.8 L615.7,573.0 L623.7,580.0 L624.1,586.5 L630.5,592.5 L628.5,601.2 L625.3,603.6 L622.6,614.6 M518.8,519.2 L529.6,519.1 L540.4,519.0 L551.2,518.8 L562.0,518.5 L572.8,518.1 L583.6,517.7 L588.8,522.2 M526.5,532.1 L533.0,541.7 L538.1,551.3 L538.7,607.2 M417.4,529.0 L428.3,529.7 L439.2,530.2 L450.1,530.7 L461.0,531.2 L471.9,531.5 L482.8,531.8 L493.7,532.0 L504.6,532.1 L515.5,532.1 L526.5,532.1 M418.7,507.6 L413.3,593.4 M276.1,491.7 L288.0,493.5 L299.8,495.2 L311.6,496.9 L323.5,498.5 L335.4,499.9 L347.2,501.3 L359.1,502.6 L371.0,503.8 L382.9,504.8 L394.9,505.8 L406.8,506.7 L418.7,507.6 M279.5,470.5 L276.1,491.7 M386.9,505.2 L401.3,335.3 M289.7,407.1 L300.1,408.7 L310.5,410.2 L320.9,411.7 L331.3,413.1 L341.8,414.4 L352.3,415.6 L362.7,416.8 L373.2,417.9 L383.7,418.9 L394.2,419.8 M233.5,310.3 L229.1,330.9 L231.3,343.3 L236.4,348.7 L243.9,363.2 L247.8,364.0 L243.6,374.0 L240.8,386.4 L251.3,387.4 L254.3,399.9 L258.6,413.7 L261.1,414.8 L267.6,415.3 L281.4,415.5 L288.0,417.6 L279.5,470.5 M395.9,399.9 L406.9,400.8 L418.0,401.6 L429.1,402.3 L440.2,402.9 L451.3,403.5 L462.4,403.9 L473.5,404.3 L484.6,404.6 L495.7,404.8 L506.8,404.9 M497.7,340.0 L498.7,350.6 L501.4,365.4 L503.5,382.4 L504.9,390.9 L506.5,403.6 L506.8,404.9 L502.5,412.1 L508.4,418.5 L508.2,457.0 L505.9,463.4 L508.1,478.6 M390.6,462.4 L401.3,463.3 L412.0,464.1 L422.7,464.8 L433.4,465.4 L444.2,466.0 L454.9,466.5 L465.7,466.9 L476.4,467.2 L485.6,470.6 L496.5,470.8 L504.2,475.2 L508.1,478.6 L509.6,484.9 L513.6,494.5 L516.7,504.2 L517.5,510.6 L519.1,519.2 L526.5,532.1 M508.2,457.0 L518.3,457.0 L528.3,456.9 L538.4,456.8 L548.4,456.6 L558.5,456.4 L568.5,456.0 L578.6,455.6 L588.6,455.2 M573.5,387.5 L569.4,388.8 L570.0,400.9 L563.6,412.0 L564.6,418.8 L563.8,427.3 L571.2,433.5 L579.1,440.6 L587.0,447.7 L588.6,455.2 L590.2,465.8 L598.6,476.1 L602.9,482.3 L607.3,490.6 L602.2,497.4 L594.6,504.2 L593.6,515.0 L588.8,522.2 M598.7,476.1 L609.8,475.4 L620.9,474.7 L631.9,473.8 L643.0,472.9 M597.1,389.1 L602.1,393.9 L617.1,397.8 L632.2,400.5 L634.0,403.3 L637.7,412.2 L641.2,417.2 M648.6,488.4 L653.2,539.9 L652.5,545.4 L654.8,552.7 L651.4,560.6 L648.5,566.3 L647.5,573.9 L646.4,580.5 L641.2,589.5 L630.5,592.5 M653.7,487.9 L663.2,487.0 L672.6,486.0 L682.0,485.0 L691.4,483.9 M691.1,483.9 L697.8,540.7 L695.7,548.5 L688.5,550.4 L683.7,559.6 L676.1,566.9 L667.9,568.8 L659.8,570.7 L654.7,570.0 L647.5,573.9 M691.2,485.2 L712.6,481.9 L718.1,480.9 M757.4,469.4 L762.1,498.2 L762.1,505.6 L761.8,514.4 L760.3,520.1 L754.7,526.4 L748.1,531.8 L747.3,537.3 L743.2,543.4 L735.9,550.5 L730.9,544.7 L723.9,547.8 L717.3,548.3 L706.6,542.3 L697.8,540.7 M735.9,550.5 L740.6,560.0 L744.8,566.0 L749.0,567.7 L742.6,573.9 L735.9,580.3 L727.5,587.9 L723.3,591.7 M625.2,601.5 L636.2,600.7 L647.2,599.8 L658.2,598.9 L669.2,597.9 L680.2,596.8 L691.1,595.6 L702.1,594.4 L713.1,593.0 L724.0,591.6 L735.0,590.2 L745.9,588.6 L756.8,587.0 M756.9,587.2 L754.1,593.9 L748.0,599.2 L743.4,603.1 L735.5,608.5 L729.2,613.5 L720.9,615.9 L717.1,627.2 M613.7,636.7 L626.1,635.9 L638.6,635.0 L651.0,634.0 L663.4,632.9 L675.8,631.8 L688.2,630.5 L700.6,629.2 L713.0,627.7 L725.3,626.2 L737.7,624.5 M757.0,588.1 L769.1,586.2 L781.2,584.2 L793.2,582.1 L805.3,580.0 L817.3,577.7 L829.4,575.4 L841.4,573.0 L853.4,570.4 M749.0,567.7 L755.4,574.2 L762.7,572.0 L768.0,567.8 L776.7,564.2 L779.2,554.0 L783.5,539.7 L789.8,541.9 L795.4,531.5 L801.3,522.7 L810.7,522.5 L811.7,518.1 M811.7,518.1 L801.2,513.6 L793.6,515.0 L790.7,519.2 L783.9,525.9 L782.0,514.9 M765.3,517.7 L774.8,516.1 L784.3,514.5 L793.7,512.8 L803.2,511.0 L812.6,509.2 L822.0,507.3 L831.4,505.4 L840.8,503.4 L843.3,500.2 L846.3,500.4 M765.3,517.7 L762.1,498.2 M811.7,518.1 L817.2,523.0 L823.2,524.0 L824.8,526.9 L822.7,533.9 L827.6,537.3 L840.5,542.4 M847.0,541.0 L857.4,537.0 M840.8,503.4 L846.6,530.1 L858.5,527.5 M737.7,624.5 L749.0,618.6 L772.3,616.2 L774.5,616.9 L777.6,622.5 L796.9,619.7 L819.9,636.1 M737.7,624.7 L742.6,634.7 L749.3,644.6 L757.4,652.1 L763.6,657.7 L769.7,662.2 L774.3,669.1 L780.1,676.8 L785.8,681.8 M694.8,630.2 L707.2,674.6 L711.2,681.9 L712.1,696.9 L714.9,713.8 M667.9,718.6 L679.6,717.5 L691.4,716.4 L703.2,715.1 L714.9,713.8 L718.2,719.9 L766.8,716.3 L770.3,715.1 L770.6,710.7 L775.3,711.1 L779.9,711.3 M667.9,718.6 L671.5,729.0 L671.2,735.5 M649.9,634.1 L652.6,644.7 L650.6,700.8 L654.5,734.8 M768.2,461.7 L769.2,467.4 L769.2,467.4 L780.5,465.4 L791.9,463.3 L803.2,461.1 L814.5,458.9 L825.8,456.5 L837.1,454.1 L842.0,457.4 L844.9,463.3 L850.2,465.2 L846.4,477.3 L846.0,482.9 L850.1,486.4 L854.2,489.8 L850.6,496.1 L846.3,500.4 L845.1,505.1 M850.2,465.2 L862.8,470.2 L864.6,470.9 M852.8,384.3 L855.2,394.9 L859.0,413.8 L861.4,414.1 L865.4,431.0 L865.3,446.4 L868.3,462.3 L867.6,466.9 L867.5,469.1 M879.6,377.5 L879.8,384.3 L875.8,393.0 L873.8,403.5 L875.5,416.3 L877.6,428.4 M865.5,431.4 L877.6,428.4 L895.2,424.5 L901.8,418.9 M884.1,369.9 L893.9,400.4 L902.1,414.2 M865.5,446.8 L891.4,440.6 L897.7,438.9 L898.4,441.4 L904.6,448.6 M891.3,440.4 L895.1,454.9 M289.7,407.1 L288.0,417.6 M324.6,693.3 L325.7,698.2 M845.1,505.1 L846.9,509.1 L851.0,512.6 L856.6,519.1" fill="none" stroke="#fff" stroke-width="1.2" stroke-linejoin="round"/></g>
<path d="M109.6,315.7 L114.1,314.6 L118.5,314.6 M118.5,314.6 L118.5,316.4 M118.5,314.6 L118.5,314.4 L123.0,314.4 L127.4,316.0 L127.4,314.9 L131.9,314.9 L136.3,315.6 M136.9,323.1 L132.2,322.8 L127.9,320.9 L127.9,320.1 L123.3,320.1 L123.3,318.9 L118.8,318.9 L114.0,318.9 L109.6,317.2 M140.5,343.8 L141.2,343.1 L143.6,343.1 L143.6,338.9 M136.3,305.0 L139.3,305.0 L139.3,310.8 M136.3,315.6 L136.3,319.3 L138.8,319.3 M136.3,315.6 L139.3,310.8 M143.6,338.9 L143.6,335.0 L142.0,335.0 L139.5,331.3 L139.5,326.9 L139.0,326.9 L139.0,323.1 L136.9,323.1 M138.8,319.3 L136.9,319.3 L136.9,323.1 M142.8,318.6 L138.8,319.3 M139.3,310.8 L139.3,312.4 L143.9,312.4 M155.6,329.5 L153.2,329.5 L153.2,325.9 L153.2,323.4 L149.8,323.4 L145.5,322.0 L142.8,318.6 M142.8,318.6 L143.9,312.4 M143.6,338.9 L143.6,335.4 L147.3,335.4 L150.9,335.4 L150.9,331.6 L155.6,329.5 M143.9,312.4 L143.9,311.2 L147.9,311.2 L152.2,311.2 L152.2,310.4 L152.2,308.7 L156.0,308.7 L156.0,307.3 L160.0,307.3 L164.0,305.9 L167.1,305.9 L167.1,302.2 L171.9,302.2 L171.9,303.0 L175.2,303.0 L175.2,299.8 L179.4,299.8 L179.4,298.8 M155.6,329.5 L155.6,327.2 L159.3,327.2 L163.8,326.9 L167.8,325.2 L171.2,325.2 L171.2,322.4 L171.2,319.9 L174.8,319.9 L179.1,319.9 L179.1,319.0 M158.9,363.2 L158.9,359.2 L161.0,359.2 L163.1,355.3 L163.1,352.7 L167.1,352.7 L167.1,348.4 L168.7,348.4 L170.6,344.3 L173.4,344.3 L173.4,340.9 L175.6,337.0 L179.9,334.6 L179.9,330.4 L181.6,330.4 M181.6,330.4 L180.4,330.4 L180.4,324.7 L179.1,319.0 M179.1,319.0 L180.8,314.4 L181.5,309.5 L181.5,304.8 L183.2,304.8 L183.2,300.1 L184.4,300.1 M181.6,330.4 L181.6,334.0 L183.5,334.0 L187.3,336.3 L188.3,340.5 L191.8,343.0 L192.3,343.0 L192.3,347.5 L192.3,350.3 L195.4,350.3 L198.6,350.3 L198.6,353.0 L199.6,357.1 L199.6,359.8 L202.9,359.8 L205.7,362.8 L205.7,366.7 L207.1,366.7 M137.8,409.0 L137.8,407.9 L133.6,407.9 L129.3,408.2 L125.2,408.2 L125.2,407.6 L125.2,406.5 L121.1,406.5 L121.1,404.9 L117.0,404.9 L112.7,405.0 L108.5,405.0 L108.5,404.9 M108.5,404.9 L104.2,404.9 L100.2,402.9 L95.8,404.0 L91.8,404.0 L91.8,402.4 L89.3,401.8 M132.0,385.3 L132.0,383.4 L128.4,383.4 L124.5,382.0 L124.5,381.3 M103.1,357.4 L103.1,358.4 L104.9,358.4 M110.8,360.3 L111.3,360.6 L115.5,360.6 L115.5,361.6 L120.0,361.4 M120.0,361.4 L120.0,364.7 M128.3,381.3 L128.3,381.4 L129.8,381.4 L132.0,381.4 L132.0,385.3 M120.9,360.4 L120.0,361.4 M142.6,392.8 L139.5,389.8 L139.5,388.7 L134.9,388.7 L132.0,385.3 M144.7,441.9 L144.7,437.5 L145.0,437.5 L142.4,433.7 L142.4,429.8 L140.8,429.8 L140.8,425.6 L140.3,425.6 L139.3,421.5 L139.8,417.1 L138.8,417.1 L138.8,413.0 L137.8,413.0 L137.8,409.0 M142.6,392.8 L141.9,392.8 L141.9,397.0 L141.4,401.3 L141.4,404.7 L138.1,404.7 L137.8,404.7 L137.8,409.0 M169.5,362.8 L169.5,365.4 L166.4,365.4 L163.9,365.4 L163.9,368.5 L161.7,372.0 L161.7,374.1 L157.9,374.1 L156.9,378.6 L156.9,380.2 L152.7,380.2 L151.3,380.2 L151.3,384.3 L147.9,384.3 L147.9,386.8 L144.7,389.3 L142.6,392.8 M70.0,483.2 L74.4,483.2 L74.4,482.1 L79.1,482.1 M79.1,482.1 L79.1,480.9 L83.3,480.9 M96.5,459.6 L92.6,458.0 L89.2,455.7 L85.9,455.7 L85.9,453.3 L82.5,451.0 L79.7,451.0 L79.7,447.8 L76.3,445.6 L76.3,443.2 L73.0,443.2 M75.3,508.8 L79.4,508.8 L79.4,507.2 L83.9,509.2 L88.0,509.2 L88.0,507.5 M84.1,516.6 L76.7,515.6 M77.8,522.2 L84.2,522.2 L84.2,521.5 M78.5,528.5 L84.8,526.3 M80.2,540.5 L80.2,536.7 L83.1,536.7 L83.1,532.6 L85.5,532.6 L85.5,528.5 L87.9,528.5 M82.2,549.7 L82.2,546.0 L85.5,546.0 L85.5,544.3 L90.4,544.3 L90.4,541.8 L94.6,541.8 L94.6,538.0 L97.9,538.0 M88.5,486.8 L83.3,486.8 L83.3,480.9 M83.3,480.9 L85.5,477.3 L85.5,473.1 L86.7,473.1 L90.5,470.6 L90.5,467.2 L93.0,467.2 L93.0,462.9 L93.9,462.9 L96.5,462.9 L96.5,459.6 M85.1,520.2 L84.1,520.2 L84.1,516.6 M84.1,516.6 L85.6,512.4 L88.5,509.1 M84.8,526.3 L84.2,521.5 M84.2,521.5 L85.1,521.5 L85.1,520.2 M84.8,526.3 L87.9,528.5 M93.9,520.9 L89.6,519.3 L85.1,519.3 L85.1,520.2 M104.4,563.6 L99.9,563.6 L99.9,561.9 L95.1,561.9 L95.1,562.8 L90.6,562.0 L90.6,561.4 L86.0,561.4 M87.9,528.5 L92.8,528.0 M88.0,507.5 L88.0,509.1 L88.5,509.1 M88.0,507.5 L90.1,500.7 M88.5,509.1 L88.5,511.5 L91.8,511.5 L94.5,511.5 L94.5,514.7 M103.0,492.4 L101.4,492.4 L101.4,491.2 L96.9,490.4 L96.9,487.5 L93.0,487.5 L88.5,486.8 M90.1,500.7 L88.6,500.7 L88.6,496.2 L88.6,491.5 L88.5,491.5 M88.5,491.5 L88.5,486.8 M99.4,505.2 L94.6,505.2 L94.6,503.3 L90.1,500.7 M97.9,538.0 L95.1,533.1 L92.8,533.1 L92.8,528.0 M92.8,528.0 L94.6,522.5 M94.6,522.5 L94.6,520.9 L93.9,520.9 M93.9,520.9 L94.5,520.9 L94.5,514.7 M94.5,514.7 L100.5,514.7 L100.5,512.4 M94.6,522.5 L94.6,521.6 L98.8,521.6 L102.8,522.1 L106.9,522.8 L111.0,522.8 L111.0,523.6 M96.5,459.6 L101.3,459.6 L101.3,457.9 L106.0,457.9 L106.0,456.0 M97.6,597.6 L101.5,597.6 L101.5,595.0 L105.0,595.0 L105.0,592.0 L105.0,588.0 L107.6,588.0 M97.9,538.0 L97.9,536.8 L103.8,536.8 L109.6,537.8 M100.5,512.4 L100.5,505.2 L99.4,505.2 M99.4,505.2 L103.0,502.8 L105.6,501.1 M114.9,516.3 L110.0,516.3 L110.0,515.3 L110.0,513.8 L105.3,513.8 L105.3,512.4 L100.5,512.4 M105.2,600.3 L105.2,599.6 L102.3,599.6 M112.7,569.7 L108.8,566.3 L104.4,566.3 L104.4,563.6 M104.4,563.6 L104.4,559.2 L104.4,559.2 L106.4,555.2 L106.2,555.2 L106.2,550.8 L107.9,550.8 L107.9,546.8 L109.9,542.9 L110.2,542.9 L110.2,538.5 M131.8,478.2 L128.8,475.1 L128.8,473.3 L124.8,473.3 L124.8,469.7 L122.3,469.7 L118.9,467.1 L118.9,464.2 L115.8,464.2 L113.3,464.2 L113.3,460.6 L108.5,460.6 L108.5,459.6 L106.0,456.0 M106.0,456.0 L107.1,451.6 L107.1,447.9 L110.1,447.9 L110.6,443.3 L111.5,438.8 L111.5,434.8 L113.6,434.8 M121.8,592.6 L117.3,592.6 L117.3,590.3 L117.3,590.3 L112.1,590.3 L112.1,588.0 L107.6,588.0 M107.6,588.0 L109.2,583.5 L110.8,579.1 L110.8,574.4 L111.9,574.4 L111.9,569.7 L112.7,569.7 M109.6,537.8 L110.3,533.1 L110.1,528.3 L111.0,523.6 M110.2,538.5 L110.2,539.6 L114.5,539.6 L114.5,540.9 L118.8,540.9 M118.9,603.8 L115.1,603.8 L115.1,601.7 M115.1,601.7 L110.6,601.7 M111.0,523.6 L112.3,519.6 L114.9,519.6 L114.9,516.3 M112.7,569.7 L116.3,568.9 M122.1,510.3 L122.1,512.4 L118.3,512.4 L114.9,516.3 M116.3,568.9 L116.3,564.8 L115.9,564.8 L115.9,560.8 L116.5,560.8 L116.9,560.8 L116.9,556.9 L118.1,552.9 L119.0,552.9 L119.0,549.0 L119.5,549.0 L119.5,545.0 L118.8,540.9 M141.9,566.8 L138.0,566.8 L138.0,567.4 L133.6,567.0 L129.2,567.0 L129.2,566.9 L124.9,567.8 L120.6,568.0 L120.6,568.9 L116.3,568.9 M117.9,610.6 L120.1,606.8 M118.8,540.9 L123.3,540.9 M123.3,540.9 L123.3,540.6 L127.9,540.6 L127.9,541.3 L132.4,541.3 L132.4,542.3 L136.8,542.3 L136.8,541.7 L138.5,541.7 M120.1,606.8 L120.1,603.8 L118.9,603.8 M118.9,603.8 L118.9,598.5 L121.7,598.5 M120.1,606.8 L124.0,607.5 M121.8,596.8 L121.8,592.6 M121.8,592.6 L125.1,590.2 L129.5,590.2 L129.5,589.9 L132.9,587.8 L136.1,587.8 L136.1,585.2 L139.9,583.8 M125.2,610.7 L124.0,610.7 L124.0,607.5 M124.0,607.5 L126.3,607.5 L126.3,606.3 M125.2,610.7 L125.2,612.9 L124.2,612.9 M128.7,610.5 L125.2,610.7 M130.4,606.5 L126.3,606.5 L126.3,606.3 M130.6,613.4 L128.7,610.5 M128.7,610.5 L130.6,610.5 L130.6,607.2 M129.8,615.2 L130.6,613.4 M130.6,613.4 L130.6,612.2 L133.8,612.2 M130.6,607.2 L133.9,609.0 M139.9,583.8 L137.2,587.4 L135.4,587.4 L135.4,591.4 L133.4,595.4 L133.2,596.7 M138.5,605.3 L137.3,605.3 M133.8,618.2 L136.3,616.0 M136.2,614.0 L136.2,612.2 L133.8,612.2 M133.8,612.2 L133.9,612.2 L133.9,609.0 M133.9,609.0 L138.0,609.0 L138.0,606.8 M136.3,616.0 L136.2,616.0 L136.2,614.0 M136.2,614.0 L136.2,611.5 L139.6,611.5 M139.8,618.1 L136.3,618.1 L136.3,616.0 M138.8,622.4 L137.0,622.4 L137.0,623.4 M139.6,611.5 L138.0,611.5 L138.0,606.8 M138.0,606.8 L138.5,605.3 M138.5,605.3 L142.5,602.8 L142.5,601.3 L147.0,601.3 M143.8,623.9 L138.8,623.9 L138.8,622.4 M138.8,622.4 L139.8,622.4 L139.8,618.1 M139.3,631.5 L139.3,627.8 L144.9,627.8 M143.2,612.9 L139.6,611.5 M139.8,618.1 L139.8,617.1 L141.9,617.1 M139.9,583.8 L143.7,583.8 L143.7,581.3 L147.0,581.3 L147.0,581.0 M146.6,638.0 L140.3,636.2 M141.3,644.8 L141.3,643.9 L145.0,643.9 M145.9,620.4 L145.9,617.1 L141.9,617.1 M141.9,617.1 L143.2,617.1 L143.2,612.9 M144.9,627.8 L143.8,627.8 L143.8,623.9 M143.8,623.9 L143.8,620.4 L145.9,620.4 M144.0,612.5 L148.6,612.5 L148.6,614.4 M144.0,612.5 L144.0,606.8 L145.0,606.8 L147.0,601.3 M151.5,629.8 L144.9,627.8 M147.1,646.3 L147.1,643.9 L145.0,643.9 M145.0,643.9 L145.0,638.0 L146.6,638.0 M145.8,650.7 L145.8,646.3 L147.1,646.3 M145.9,620.4 L147.9,619.7 M146.6,638.0 L146.6,637.7 L151.2,637.7 L155.1,637.7 L155.1,635.3 M147.0,601.3 L149.0,597.6 L152.1,597.6 L152.1,594.9 L152.1,593.0 L156.0,593.0 L158.4,593.0 L158.4,589.6 M147.1,646.3 L147.1,645.5 L151.5,645.5 L156.1,645.6 L159.5,644.0 M152.6,622.3 L147.9,622.3 L147.9,619.7 M147.9,619.7 L148.6,614.4 M148.6,614.4 L152.6,611.2 L152.6,610.5 L157.7,610.5 L161.4,610.5 M162.0,610.3 L162.0,607.8 M155.1,635.3 L151.5,629.8 M151.5,629.8 L151.5,622.3 L152.6,622.3 M155.5,619.6 L152.6,619.6 L152.6,622.3 M155.1,635.3 L158.5,636.3 M158.4,589.6 L159.9,594.0 L161.4,594.0 L161.4,598.5 L161.4,603.4 L160.2,603.4 L160.2,607.8 L162.0,607.8 M158.4,589.6 L158.4,585.4 L157.8,585.4 L159.2,583.2 M162.0,607.8 L162.0,610.3 M230.8,461.2 L232.5,457.3 L232.2,457.3 L232.2,452.9 L232.2,448.8 L232.9,448.8 L234.1,448.8 L234.1,444.8 L235.2,440.7 L235.2,436.8 L237.0,436.8 L237.0,432.8 L238.2,432.8 L238.3,432.8 L238.3,428.5 L239.7,424.5 L239.7,420.6 L241.3,420.6 L240.8,416.2 L242.5,412.3 L242.9,408.1 L242.9,404.0 L244.0,404.0 L243.9,399.7 L246.6,399.7 L246.6,396.0 L247.8,392.0 L247.6,392.0 L247.6,387.7 M296.4,574.0 L292.3,574.0 L292.3,572.6 L289.0,572.6 L289.0,570.1 L289.0,566.8 L286.3,566.8 L282.2,566.8 L282.2,565.5 L282.2,562.2 L279.6,562.2 L275.5,562.2 L275.5,560.9 L275.5,557.3 L272.9,557.3 L272.9,556.1 L268.8,556.1 L265.3,556.1 L265.3,553.9 L265.3,551.4 L262.0,551.4 L259.4,548.0 L256.0,548.0 L256.0,545.7 L256.0,542.7 L253.1,542.7 L249.7,540.4 L245.5,539.2 L241.9,539.2 L241.9,537.2 L239.6,533.3 L235.2,532.4 L232.6,532.4 L232.6,529.1 L232.6,527.1 L228.9,527.1 L228.9,524.4 L225.8,524.4 L222.2,524.4 L222.2,522.4 M297.4,495.5 L293.4,495.8 L289.3,495.8 L285.4,495.8 L285.4,496.9 M285.4,496.9 L281.3,496.9 L277.5,499.0 L277.5,498.6 L273.4,498.6 L269.3,498.6 M269.3,498.6 L269.3,500.8 L265.6,500.8 L265.6,499.5 L261.3,499.5 L257.3,499.5 L257.3,500.0 L253.5,501.7 L249.3,501.7 M249.3,501.7 L249.3,503.3 L245.6,503.3 L241.6,503.3 L241.6,504.0 L241.6,505.1 L237.6,505.1 L233.6,505.1 L233.6,505.4 L229.6,505.4 L229.6,505.5 M229.6,505.5 L225.5,505.5 M228.9,487.7 L228.9,486.9 L233.3,486.9 L233.3,488.9 L237.4,488.9 L237.4,489.3 L241.6,489.3 L245.8,490.0 L250.0,490.6 L254.4,490.6 L254.4,489.6 L258.5,489.6 L258.5,491.2 M258.5,491.2 L262.8,491.2 L262.8,489.9 L267.2,489.9 L271.4,490.5 L271.4,491.5 L275.6,491.5 M199.5,618.8 L198.5,617.3 M199.5,618.8 L203.7,620.9 L207.9,622.8 L211.8,625.3 L214.2,625.8 M200.9,624.9 L199.5,618.8 M204.9,651.5 L204.9,649.7 L205.0,649.7 L205.0,645.4 L205.3,645.4 L205.3,641.2 L202.5,637.6 L202.5,633.5 L201.8,633.5 L201.8,629.3 L201.8,629.3 L200.9,625.3 M220.5,652.6 L220.5,650.9 L224.3,650.9 L224.3,650.7 L228.8,650.7 M230.3,645.3 L226.6,642.2 L224.3,638.0 L223.8,636.5 M233.0,653.5 L228.8,650.7 M228.8,650.7 L228.8,645.3 L230.3,645.3 M233.5,645.3 L230.3,645.3 M232.6,659.7 L232.6,657.9 M232.6,657.9 L233.0,657.9 L233.0,653.5 M237.1,650.4 L237.1,653.5 L233.0,653.5 M250.5,662.0 L249.1,662.7 L249.1,664.3 L245.1,664.3 L242.4,666.5 M247.5,653.9 L244.8,653.9 L242.2,652.3 M237.9,650.7 L237.1,650.4 M462.0,530.6 L464.2,530.6 L464.2,526.9 L464.2,522.7 L464.6,522.7 L464.8,522.7 L464.8,518.5 L465.5,518.5 L465.5,514.4 L468.1,510.8 L468.8,510.8 L468.8,506.7 L468.1,506.7 L468.1,502.3 L469.7,498.4 L472.3,498.4 L472.3,494.8 L471.8,494.8 L471.8,490.4 L471.8,486.2 L472.1,486.2 L474.1,486.2 L474.1,482.4 L474.1,478.5 L475.5,478.5 L476.3,474.5 M520.9,523.5 L518.2,520.4 L514.9,520.4 L514.9,517.8 L514.9,514.4 L512.5,514.4 L512.5,511.9 L509.1,511.9 L506.4,508.7 L503.9,505.4 L503.9,501.4 L502.1,501.4 L498.0,499.6 L498.0,496.2 L495.6,496.2 L493.7,492.2 L493.7,489.6 L490.4,489.6 L487.7,486.5 L484.9,483.4 L484.9,481.0 L481.4,481.0 L481.4,478.0 L478.5,478.0 L476.3,478.0 L476.3,474.5 M476.3,474.5 L477.0,474.5 L477.0,468.1 M459.4,592.9 L459.4,588.8 M459.4,588.8 L459.4,588.8 L459.4,584.6 L457.3,584.6 L457.3,580.7 L457.3,576.6 L456.9,576.6 L456.1,572.5 L456.1,568.2 L457.5,568.2 L457.5,564.4 L455.0,564.4 L456.6,560.0 L456.6,555.9 L456.0,555.9 L456.0,551.8 L454.0,551.8 L454.0,547.9 L455.2,543.6 L454.5,543.6 L454.5,539.5 L452.8,535.6 L452.8,531.4 L452.6,531.4 M458.8,595.0 L459.4,592.9 M497.7,558.7 L497.7,561.4 L494.4,561.4 L494.4,563.9 L490.8,563.9 L490.8,567.4 L488.2,567.4 L484.1,567.4 L484.1,569.2 L481.0,572.1 L481.0,576.2 L478.9,576.2 L475.9,579.3 L475.9,580.8 L471.5,580.8 L469.7,585.1 L466.0,587.4 L462.4,587.4 L462.4,589.8 L459.4,592.9 M493.4,532.6 L494.2,536.9 L496.1,541.1 L496.1,545.8 L494.5,545.8 L495.7,550.1 L495.7,554.2 L497.9,554.2 L497.9,558.7 L497.7,558.7 M497.7,558.7 L501.1,561.2 L501.1,564.6 L503.7,564.6 L503.7,567.9 L506.4,567.9 L506.4,570.0 L510.1,570.0 L513.5,570.0 L513.5,572.5 L516.9,575.1 L519.4,578.5 L519.4,580.9 L523.0,580.9 L525.7,584.1 L528.3,584.1 L528.3,587.5 L530.7,587.5 L530.7,591.1 L534.7,592.9 L537.7,592.9 L537.7,595.9 M467.7,656.4 L467.7,653.3 L470.6,653.3 L470.6,650.3 L473.7,650.3 L475.4,646.2 L477.6,646.2 L477.6,642.6 L480.0,642.6 L480.0,639.0 L480.0,636.5 L483.7,636.5 L485.3,632.3 L488.5,629.4 M488.5,629.4 L487.5,629.4 L487.5,625.3 L486.5,621.3 L484.8,617.4 L484.8,613.0 M484.8,613.0 L483.2,613.0 L483.2,609.1 L482.7,609.1 L482.7,604.9 L480.6,601.1 L480.6,596.9 L480.3,596.9 M509.1,632.0 L504.9,632.4 L500.9,632.4 L500.9,630.9 L496.8,630.9 L496.8,630.1 L492.5,630.1 L492.5,630.5 L488.5,630.5 L488.5,629.4 M492.3,597.1 L494.3,597.1 L494.3,600.9 L495.3,600.9 L495.3,605.2 L499.0,608.2 L500.4,612.3 L502.6,616.0 L502.5,616.0 L502.5,620.9 L506.4,620.9 L506.4,623.8 L506.4,628.1 L507.3,628.1 L509.1,632.0 M509.1,632.0 L512.9,632.0 L512.9,635.9 L515.2,635.9 L515.2,640.8 M516.0,663.7 L515.9,659.1 L515.9,654.6 L514.6,654.6 L515.5,649.9 L514.3,649.9 L514.3,645.4 L514.3,640.8 L515.2,640.8 M515.2,640.8 L516.9,636.5 L516.9,633.8 L520.7,633.8 L520.7,630.4 L523.5,630.4 L525.8,626.6 L527.7,626.6 L527.7,622.6 L530.4,622.6 L530.4,619.1 L532.8,619.1 L532.8,615.4 L535.6,615.4 L535.6,612.0 L538.1,608.4 M383.1,760.5 L385.2,756.7 L384.8,752.3 L385.9,748.3 L387.0,744.4 L387.9,740.3 L388.5,736.2 L390.3,736.2 L390.3,732.4 L390.3,728.5 L391.7,728.5 L391.9,728.5 L391.9,724.3 L393.1,724.3 L393.1,720.3 L394.3,716.3 L394.3,712.6 L396.5,712.6 L397.0,712.6 L397.0,708.5 M397.0,708.5 L397.0,704.4 L393.4,704.4 L393.4,699.4 L391.5,699.4 L389.3,699.4 L389.3,699.2 M393.8,648.6 L397.2,648.6 L397.2,648.5 L401.7,648.5 L401.7,648.2 L406.1,648.2 L406.1,648.9 L410.6,650.0 L415.1,648.6 L419.6,648.6 L419.6,649.9 M419.6,649.9 L424.1,649.9 M448.9,687.3 L444.8,687.3 L444.8,688.8 L441.3,691.7 L436.9,691.7 L436.9,692.2 L436.9,694.4 L433.1,694.4 L428.7,695.0 L424.7,695.0 L424.7,696.5 L424.7,699.1 L421.1,699.1 L416.6,699.3 L412.9,701.7 L409.1,701.7 L409.1,704.0 L409.1,704.1 L404.5,704.1 L401.4,707.8 L401.4,708.5 L397.0,708.5 M451.5,676.2 L448.5,673.2 L448.5,670.2 L445.6,670.2 L442.8,670.2 L442.8,666.9 L442.8,663.6 L440.2,663.6 L435.6,663.6 L435.6,662.2 L432.6,662.2 L432.6,659.3 L430.3,655.6 L426.9,655.6 L426.9,653.0 L424.1,653.0 L424.1,649.9 M424.1,649.9 L425.2,649.9 L425.2,645.8 L427.9,642.3 L427.1,637.6 L428.5,633.6 L428.5,630.1 L431.3,630.1 L431.3,626.3 L433.0,626.3 L433.0,621.8 L433.1,621.8 L436.1,618.5 L436.1,614.1 L436.5,614.1 L437.0,609.8 L439.4,606.2 M424.7,763.3 L427.9,760.2 L432.1,758.5 L434.3,758.5 L434.3,754.1 L434.3,752.4 L438.6,752.4 M468.1,757.9 L464.1,755.9 L459.6,755.9 L459.6,756.3 M459.6,756.3 L455.3,756.3 L451.1,755.3 L447.1,755.3 L447.1,753.2 L442.8,753.2 L438.6,752.4 M438.6,752.4 L442.2,752.4 L442.2,749.4 L442.2,745.7 L445.0,745.7 L445.0,742.8 L448.7,742.8 L448.7,738.3 L450.6,738.3 L454.7,735.8 L454.7,732.3 L457.7,732.3 M463.0,707.4 L460.2,704.3 L458.9,704.3 L458.9,700.2 L455.9,700.2 L455.9,697.3 L452.9,697.3 L452.9,694.5 L451.8,690.3 L448.9,687.3 M448.9,687.3 L450.5,687.3 L450.5,681.9 L450.5,676.2 L451.5,676.2 M490.3,812.9 L490.3,812.3 L489.6,812.3 M476.7,807.8 L475.1,807.4 M451.5,676.2 L454.6,673.3 L457.2,669.8 L461.0,669.8 L461.0,667.6 M476.3,748.2 L473.4,748.2 L473.4,745.2 L469.5,743.5 L466.4,740.9 L463.4,740.9 L463.4,738.2 L460.1,738.2 L460.1,735.7 L457.7,732.3 M457.7,732.3 L458.9,728.2 L459.1,728.2 L459.1,723.9 L461.0,723.9 L461.0,720.0 L463.2,716.3 L463.2,712.1 L463.9,712.1 M491.1,684.2 L487.4,684.2 L487.4,682.0 L483.2,680.6 L483.2,678.7 L479.4,678.7 L479.4,677.0 L475.4,677.0 L475.4,673.9 L472.3,673.9 L472.3,672.9 L467.9,672.9 L464.9,672.9 L464.9,669.4 L461.0,667.6 M461.0,667.6 L464.7,665.1 L466.8,661.3 L469.3,661.3 L469.3,657.8 M463.9,712.1 L463.0,712.1 L463.0,707.4 M463.0,707.4 L468.6,707.4 L468.6,705.3 L474.6,705.3 L474.6,704.3 M491.7,727.6 L491.7,725.3 L487.8,725.3 L483.6,723.5 L480.2,720.2 L475.5,719.3 L472.4,715.6 L467.7,714.7 L467.7,712.1 L463.9,712.1 M473.3,765.3 L472.1,765.3 L472.1,765.3 M468.8,763.3 L468.8,762.1 L468.1,757.9 M468.1,757.9 L468.1,754.5 L470.6,754.5 L472.7,754.5 L472.7,750.7 L476.4,750.7 L476.4,748.3 M474.6,704.3 L474.6,702.1 L478.4,702.1 L480.8,698.1 L484.7,695.8 L488.8,693.9 L491.4,690.2 M493.6,703.3 L488.7,703.3 M488.7,703.3 L488.7,702.5 M488.7,703.3 L488.7,704.3 L484.1,704.3 L479.3,704.2 L474.6,704.2 L474.6,704.3 M481.6,775.3 L485.0,775.3 L485.0,772.5 L485.0,771.7 L490.0,771.7 L494.4,771.7 L494.4,769.3 M476.3,748.2 L476.3,744.2 L478.1,744.2 L478.1,741.1 L481.1,741.1 L484.9,738.6 L487.4,738.6 L487.4,735.1 L487.4,731.3 L489.5,731.3 L491.7,727.6 M494.4,761.6 L490.3,759.6 L486.6,757.0 L486.6,753.2 L483.9,753.2 L480.0,750.9 L480.0,748.3 L476.4,748.3 M487.9,664.1 L489.8,664.1 L489.8,668.1 L491.8,672.1 L494.6,675.6 L496.5,675.6 L496.5,679.6 M491.4,690.2 L491.1,684.2 M491.1,684.2 L495.0,682.9 M496.0,690.9 L491.4,690.2 M503.0,731.3 L497.2,731.3 L497.2,729.9 L497.2,727.6 L491.7,727.6 M513.1,709.8 L513.1,707.7 L509.5,707.7 L505.0,707.7 L505.0,708.2 L501.6,708.2 L501.6,705.3 L497.1,705.6 L493.6,705.6 L493.6,703.3 M493.6,703.3 L495.9,698.3 L497.5,693.1 M506.2,779.1 L502.0,776.2 L497.8,773.2 L494.4,773.2 L494.4,769.3 M494.4,769.3 L494.4,769.3 L494.4,761.6 M494.4,761.6 L494.4,756.8 L497.0,756.8 L499.6,752.0 M498.1,686.5 L495.0,686.5 L495.0,682.9 M495.0,682.9 L495.0,679.6 L496.5,679.6 M497.5,693.1 L496.0,690.9 M496.0,690.9 L498.1,690.9 L498.1,686.5 M496.5,679.6 L502.6,679.4 M501.8,693.1 L501.8,693.1 L497.5,693.1 M498.1,686.5 L501.2,686.2 M515.4,752.6 L510.1,752.1 L504.8,753.1 L504.8,752.0 L499.6,752.0 M499.6,752.0 L500.1,747.9 L500.3,747.9 L500.3,743.6 L500.3,739.7 L502.0,739.7 L502.0,735.6 L503.0,735.6 L503.0,731.3 M503.5,688.7 L501.2,686.2 M501.2,686.2 L503.3,686.2 L503.3,680.7 M513.2,707.6 L513.2,704.1 L510.2,704.1 L508.4,704.1 L508.4,699.6 L508.4,696.5 L504.9,696.5 L501.8,696.5 L501.8,693.1 M501.8,693.1 L503.5,688.7 M503.3,680.7 L503.3,679.4 L502.6,679.4 M502.6,679.4 L503.1,674.3 L504.6,669.4 L504.6,664.9 L507.2,664.9 M503.0,731.3 L507.3,728.5 M503.3,680.7 L509.5,680.7 L509.5,683.3 M507.5,688.3 L503.5,688.3 L503.5,688.7 M521.3,746.1 L519.4,741.9 L519.4,738.6 L516.3,738.6 L512.7,735.7 L512.7,732.4 L509.6,732.4 L507.3,732.4 L507.3,728.5 M507.3,728.5 L507.3,725.7 L510.9,725.7 L510.9,721.4 L513.1,721.4 L517.1,719.0 M515.3,700.0 L515.3,695.8 L513.1,695.8 L513.1,692.7 L509.3,692.7 L507.5,692.7 L507.5,688.3 M507.5,688.3 L507.5,683.3 L509.5,683.3 M509.5,683.3 L509.5,682.8 L513.7,682.8 L517.3,680.6 L521.0,680.6 L521.0,678.9 L524.7,678.9 L524.7,677.2 L528.6,675.9 L531.9,673.3 M517.1,719.0 L515.8,714.1 L513.1,709.8 M513.1,709.8 L513.1,707.6 L513.2,707.6 M515.3,700.0 L513.2,700.0 L513.2,707.6 M531.9,673.3 L530.1,677.5 L526.4,680.4 L526.4,684.8 L524.9,684.8 L522.0,684.8 L522.0,688.3 L521.1,688.3 L521.1,693.0 L521.1,696.6 L518.3,696.6 L515.3,696.6 L515.3,700.0 M520.6,757.0 L520.6,752.6 L515.4,752.6 M515.4,752.6 L515.4,748.0 L521.1,748.0 M517.1,719.0 L522.9,719.0 L522.9,720.3 L528.9,720.2 M520.6,757.0 L520.6,762.0 L519.6,762.0 L519.3,767.0 L519.3,772.1 L519.4,772.1 M524.7,755.0 L524.7,757.0 L520.6,757.0 M524.8,751.4 L524.8,748.0 L521.1,748.0 M521.1,748.0 L521.1,746.1 L521.3,746.1 M521.3,746.1 L526.6,743.8 M527.7,756.7 L524.7,755.0 M524.7,755.0 L524.8,751.4 M524.8,751.4 L529.7,751.4 L529.7,748.9 M529.9,746.8 L526.6,743.8 M526.6,743.8 L526.7,743.8 L526.7,739.0 L526.7,734.4 L527.5,734.4 L527.5,729.6 L527.2,729.6 L527.2,725.0 L529.1,725.0 L529.1,720.2 L528.9,720.2 M527.4,769.2 L527.5,769.2 L527.5,765.1 L527.5,760.9 L527.7,760.9 M527.7,760.9 L527.7,756.7 M532.4,754.9 L527.7,756.7 M528.9,720.2 L533.1,721.3 L537.0,721.3 L537.0,718.7 L541.2,719.5 M532.9,753.1 L529.7,753.1 L529.7,748.9 M529.7,748.9 L529.9,746.8 M529.9,746.8 L534.7,744.4 L539.3,744.4 L539.3,741.5 M531.9,673.3 L537.0,668.1 M537.2,762.3 L537.2,758.4 L535.2,758.4 L532.4,754.9 M532.4,754.9 L532.9,753.1 M532.9,753.1 L537.4,753.1 L537.4,751.3 L541.6,748.7 M541.6,748.7 L539.3,748.7 L539.3,741.5 M539.3,741.5 L539.3,737.1 L539.6,737.1 L540.4,732.8 L539.8,728.3 L541.9,728.3 L541.9,724.0 L541.9,719.5 L541.2,719.5 M541.2,719.5 L541.2,717.2 L545.7,717.2 L550.0,714.7 L555.0,714.7 L555.0,713.5 M541.6,748.7 L545.7,752.2 L549.2,756.1 M536.8,389.3 L536.8,386.9 L533.0,386.9 L528.6,386.9 L528.6,386.7 L528.6,385.9 L524.3,385.9 L520.5,385.9 L520.5,383.3 L516.3,383.3 L516.3,382.4 L512.1,381.3 L508.2,379.3 L503.7,379.3 L503.7,379.2 M524.4,456.4 L524.4,452.1 L525.6,452.1 L526.7,452.1 L526.7,447.8 L528.3,447.8 L528.3,443.6 L529.1,443.6 L529.1,439.3 L531.6,435.4 L532.8,431.2 M532.8,431.2 L534.6,431.2 L534.6,427.0 L534.7,422.5 L535.0,422.5 L535.0,418.1 L535.9,418.1 L535.9,413.8 L534.8,409.2 L534.8,405.1 L537.4,405.1 M537.4,405.1 L537.4,400.6 L537.5,396.2 L538.3,391.8 M532.8,431.2 L532.8,430.8 L537.3,430.8 L541.8,430.8 L541.8,430.4 L546.0,428.7 L550.1,428.7 L550.1,426.4 L554.5,426.4 L554.5,426.0 M538.3,391.8 L536.8,389.3 M567.3,354.3 L563.8,356.8 L561.1,360.1 L558.5,363.4 L555.8,366.6 L555.8,369.9 L553.1,369.9 L550.6,373.4 L550.6,377.3 L548.7,377.3 L544.3,377.3 L544.3,379.1 L541.7,379.1 L541.7,382.4 L540.5,386.9 L540.5,389.3 L536.8,389.3 M538.3,391.8 L542.2,391.8 L542.2,394.4 L547.3,394.4 L547.3,393.9 L550.8,397.4 L550.8,397.3 L555.7,397.3 L559.3,397.3 L559.3,400.5 L559.3,401.2 L563.9,401.2 L568.0,403.2 M555.8,422.8 L553.7,422.8 L553.7,418.8 L551.2,415.2 L550.1,415.2 L550.1,410.7 L550.1,407.6 L546.5,407.6 L544.8,403.4 L543.0,399.4 L539.4,396.3 L538.3,391.8 M548.2,456.0 L548.8,451.4 L550.9,447.4 L554.1,447.4 L554.1,443.8 L554.6,443.8 L554.6,439.2 L554.6,435.0 L556.3,435.0 L558.2,430.9 M558.2,430.9 L554.5,430.9 L554.5,426.0 M554.5,426.0 L555.8,422.8 M555.8,422.8 L555.8,423.6 L559.9,423.6 L563.7,421.9 M564.1,428.3 L558.2,430.9 M518.1,510.1 L521.5,510.1 L521.5,507.7 L524.5,504.8 L525.7,504.8 M526.5,501.0 L526.5,498.2 L527.4,498.2 M540.3,485.1 L540.3,483.5 L543.7,483.5 L545.5,483.5 L545.5,479.6 L549.5,477.7 L550.6,477.7 L550.6,473.2 L550.6,471.5 L554.9,471.5 L557.1,468.0 L559.1,464.3 L559.1,461.4 L562.1,461.4 L562.1,458.9 L565.4,458.9 M569.6,506.9 L569.6,505.0 L569.9,505.0 M569.9,505.0 L569.9,500.8 L569.5,496.6 L568.5,496.6 L568.5,492.5 L569.2,488.2 L567.7,484.1 L566.7,484.1 L566.7,480.0 L567.4,475.7 L568.0,475.7 L568.0,471.4 L568.0,467.2 L566.9,467.2 L565.6,463.1 L565.4,463.1 L565.4,458.9 M565.4,458.9 L565.4,456.7 L566.2,456.7 M589.6,519.9 L589.6,515.6 L589.8,515.6 L589.8,511.3 M589.8,511.3 L590.0,511.3 L590.0,507.0 L590.0,502.9 L592.0,502.9 L593.3,498.8 L593.7,494.5 L593.0,490.1 L594.7,490.1 L594.7,486.0 L593.9,481.6 L595.1,477.4 L595.4,477.4 L595.4,473.1 M538.8,562.1 L538.8,560.1 L542.6,560.1 L545.2,556.8 L547.5,553.1 L550.7,553.1 L550.7,550.4 L550.7,548.5 L554.6,548.5 L556.8,544.7 L560.1,542.1 L562.4,542.1 L562.4,538.5 L562.4,535.6 L565.4,535.6 L568.5,535.6 L568.5,532.8 L568.5,530.7 L572.3,530.7 L574.1,526.7 L576.9,526.7 L576.9,523.6 L576.9,521.2 L580.4,521.2 L580.4,518.5 L583.7,518.5 M583.3,577.3 L583.3,576.0 L579.3,576.0 L575.2,576.0 L575.2,574.9 L571.3,574.9 L571.3,573.1 L567.5,571.0 L563.1,570.8 L558.9,569.9 L555.1,569.9 L555.1,567.8 L550.8,567.8 L550.8,567.2 L547.2,564.3 L542.9,563.9 L542.9,562.8 L538.8,562.8 M583.9,578.3 L583.3,577.3 M583.3,577.3 L583.3,572.1 L585.1,572.1 M584.2,605.3 L583.6,600.8 L585.0,600.8 L585.0,596.3 L585.1,591.8 L585.1,587.3 L584.8,587.3 L584.8,582.8 L583.9,582.8 L583.9,578.3 M583.9,578.3 L588.3,577.4 L592.8,578.5 L592.8,579.1 L597.3,579.1 L601.7,579.1 L601.7,577.7 L606.1,576.9 L606.1,576.4 L610.6,576.4 L615.1,578.5 L619.5,577.1 M591.7,535.0 L591.5,535.0 L591.5,539.2 L590.1,543.2 L590.1,547.2 L588.3,547.2 L588.3,551.5 L588.7,551.5 L588.1,555.6 L588.0,555.6 L588.0,559.9 L588.0,563.8 L586.0,563.8 L586.0,568.0 L585.7,568.0 L585.1,568.0 L585.1,572.1 M585.1,572.1 L588.7,569.1 L593.2,567.5 L593.2,565.2 L597.2,565.2 L600.8,565.2 L600.8,562.0 L605.4,562.0 L605.4,560.7 M594.0,538.6 L591.7,535.0 M603.9,553.8 L601.2,553.8 L601.2,550.8 L601.2,546.5 L600.1,546.5 L597.8,546.5 L597.8,543.0 L594.9,539.9 M554.1,640.5 L554.1,642.9 L550.7,642.9 L546.2,642.0 L542.7,644.3 M600.2,677.7 L597.4,677.7 L597.4,674.4 L593.3,672.8 L590.5,672.8 L590.5,669.5 L587.3,666.7 L587.3,665.4 L583.0,665.4 L579.8,665.4 L579.8,662.6 L576.6,659.8 L574.6,659.8 L574.6,655.5 L570.3,654.1 L570.3,651.6 L566.9,651.6 L564.2,651.6 L564.2,648.2 L560.1,648.2 L560.1,646.6 L556.6,646.6 L556.6,644.2 L554.1,640.5 M554.1,640.5 L556.4,636.8 L560.3,634.4 L562.0,630.1 L562.0,627.7 L565.9,627.7 L567.9,627.7 L567.9,623.7 L572.0,621.5 L572.0,617.5 L574.0,617.5 M574.0,617.5 L574.0,620.1 L577.6,620.1 L577.6,623.8 L580.0,623.8 L580.0,626.5 L583.4,626.5 L586.1,626.5 L586.1,630.0 L588.7,630.0 L588.7,633.6 L592.3,633.6 L592.3,636.1 L592.3,639.9 L594.6,639.9 L599.5,641.2 L602.4,644.4 L602.4,649.1 L603.9,649.1 L607.8,649.1 L607.8,650.0 M574.0,617.5 L574.0,612.2 L574.9,612.2 L575.4,606.9 M559.8,725.2 L563.1,722.3 L566.9,720.3 L570.5,720.3 L570.5,718.0 M570.5,718.0 L570.9,714.0 L571.3,709.9 L571.9,709.9 L571.9,705.9 L571.9,701.9 L571.4,701.9 L569.7,701.9 L569.7,697.9 L569.7,693.9 L572.1,693.9 L571.2,689.9 L570.9,689.9 L570.9,685.8 L570.9,681.8 L571.1,681.8 M588.3,717.2 L583.9,717.2 L583.9,717.4 L579.5,718.2 L575.0,718.2 L575.0,718.0 L570.5,718.0 M603.7,758.8 L601.9,758.8 L601.9,755.1 L601.8,755.1 L601.8,750.9 L599.7,750.9 L599.7,747.3 L599.7,743.4 L598.8,743.4 L597.2,739.7 L597.2,736.2 L594.9,736.2 L593.5,732.5 L592.4,728.6 L590.6,724.9 L589.2,721.2 L589.2,717.2 L588.3,717.2 M588.3,717.2 L593.3,716.4 L593.3,713.3 L597.2,713.3 M604.0,759.0 L606.3,755.1 L606.3,751.2 L608.5,751.2 M608.5,751.2 L609.0,751.2 L609.0,746.7 L609.0,743.3 L612.2,743.3 L614.2,739.4 L614.3,734.8 L616.3,730.9 L616.3,726.4 L616.9,726.4 L619.5,726.4 L619.5,722.8 M632.4,741.1 L628.8,741.1 L628.8,743.7 L624.4,743.7 L624.4,744.4 L620.0,744.4 L620.0,745.2 L616.3,747.4 L612.7,750.0 L608.5,750.0 L608.5,751.2 M574.7,435.8 L574.7,432.6 L575.2,432.6 M586.3,423.2 L589.2,421.4 L592.4,418.9 L595.4,416.0 M595.4,416.0 L593.9,411.7 L594.5,407.0 L592.5,402.7 L592.5,398.4 L591.4,398.4 L590.5,398.4 L590.5,393.9 L589.6,389.5 L589.8,389.5 L589.8,384.9 M595.4,416.0 L599.8,416.6 L599.8,418.1 L603.9,418.1 L607.6,420.5 L607.6,422.5 L611.5,422.5 L615.6,422.5 L615.6,423.9 M609.1,450.8 L609.7,450.8 L609.7,450.4 M614.2,444.9 L617.1,442.3 M617.1,442.3 L617.1,437.7 L617.4,437.7 L616.2,435.3 M615.2,428.7 L615.2,428.6 L615.5,428.6 L615.6,428.6 L615.6,423.9 M615.6,423.9 L618.3,420.5 L621.2,417.2 L625.5,417.2 L625.5,415.4 L625.5,411.2 L627.5,411.2 L627.5,407.9 L630.3,407.9 L634.3,407.9 L634.3,405.8 M617.1,442.3 L620.8,444.6 L624.9,444.6 L624.9,446.2 M628.2,462.5 L628.1,458.3 L626.5,454.4 L626.5,450.0 L626.9,450.0 L626.9,446.2 L624.9,446.2 M624.9,446.2 L624.9,444.4 L628.8,444.4 L633.0,444.9 L637.2,445.2 L641.1,443.5 M627.4,473.6 L627.3,468.0 L628.2,462.5 M628.2,462.5 L632.7,462.5 L632.7,462.2 M632.7,462.2 L632.7,460.8 M632.7,462.2 L637.7,462.2 L642.3,460.8 M626.1,523.4 L626.1,523.3 L622.1,523.3 L622.1,524.3 L618.0,524.3 L618.0,524.3 L614.0,524.3 L614.0,523.9 L609.9,523.9 L605.9,524.5 L605.9,522.5 L601.8,522.5 L597.7,522.5 L597.7,524.2 L593.7,523.6 L589.6,523.6 L589.6,523.8 M617.7,552.7 L619.3,552.7 L623.0,550.7 L627.3,550.3 L631.2,548.9 L635.2,547.5 M623.9,500.2 L623.9,497.5 L618.9,497.5 L615.0,497.5 M614.0,495.9 L614.0,494.6 M630.0,482.1 L627.1,482.1 L627.1,484.9 L624.3,484.9 L624.3,487.9 L624.3,488.7 L619.8,488.7 L617.6,488.7 L617.6,492.6 L614.0,494.6 M632.9,511.9 L629.7,511.9 L629.7,508.2 L626.8,504.2 L623.9,504.2 L623.9,500.2 M633.2,493.0 L633.2,497.1 L628.9,497.1 L623.9,500.2 M635.2,547.5 L634.8,543.1 L631.2,543.1 L631.2,539.8 L630.9,538.5 M629.4,530.2 L628.1,527.2 L628.1,523.4 L626.1,523.4 M626.1,523.4 L628.6,519.7 L629.0,518.1 M630.0,514.9 L632.9,511.9 M634.3,485.2 L630.0,482.1 M630.0,482.1 L630.7,474.5 M650.3,515.0 L650.3,513.0 L646.2,513.0 L646.2,513.1 L641.7,513.1 L637.2,513.0 L637.2,511.9 L632.9,511.9 M632.9,511.9 L632.9,507.8 L634.3,507.8 L637.9,505.1 L637.9,501.7 L640.6,501.7 L640.6,497.5 L641.9,497.5 M633.2,493.0 L634.3,485.2 M638.0,492.8 L633.2,493.0 M636.8,484.9 L634.3,485.2 M653.9,553.3 L653.9,551.5 L649.3,551.5 L644.7,549.9 L639.5,550.0 L639.5,547.5 L635.2,547.5 M635.4,474.1 L639.8,474.1 L639.8,480.7 M640.1,489.0 L636.8,489.0 L636.8,484.9 M636.8,484.9 L639.7,482.2 M641.7,496.0 L638.0,492.8 M638.0,492.8 L640.1,489.0 M643.1,484.4 L639.7,482.2 M639.7,482.2 L639.7,480.7 L639.8,480.7 M639.8,480.7 L644.8,478.3 M640.1,489.0 L643.1,489.0 L643.1,488.5 M641.9,497.5 L641.9,496.0 L641.7,496.0 M641.7,496.0 L644.6,492.5 M641.9,497.5 L648.9,497.5 L648.9,498.9 M643.2,488.5 L643.1,488.5 L643.1,484.4 M643.1,484.4 L643.1,482.9 L646.3,482.9 M644.6,492.5 L643.1,492.5 L643.1,488.5 M643.2,488.5 L647.9,488.5 L647.9,487.6 M648.4,492.8 L644.6,492.8 L644.6,492.5 M686.2,426.4 L681.2,426.8 L681.2,428.5 L676.5,428.5 L672.1,428.5 L672.1,431.0 L667.3,431.0 L667.3,432.3 M685.5,453.4 L681.5,453.4 L681.5,450.2 L681.5,448.8 L676.7,448.8 L671.6,447.9 L671.6,444.9 L667.6,444.9 M682.5,466.0 L677.8,467.8 L672.8,468.0 L672.8,468.3 L667.9,468.3 M694.8,483.4 L691.9,483.4 L691.9,480.2 L689.1,477.0 L686.5,473.6 L686.5,469.4 L685.1,469.4 L682.5,469.4 L682.5,466.0 M682.5,466.0 L682.3,466.0 L682.3,461.5 L685.2,457.7 L685.5,453.4 M685.5,453.4 L689.2,451.3 L693.4,451.3 L693.4,450.5 M702.4,434.7 L698.3,434.7 L698.3,432.7 L694.9,429.4 L689.8,429.3 L686.2,429.3 L686.2,426.4 M686.2,426.4 L686.2,421.9 L687.3,421.9 L686.2,417.5 L685.1,413.1 L685.8,408.7 L685.8,404.3 L687.0,404.3 L686.5,399.8 M699.4,438.7 L699.5,438.3 L702.4,438.3 L702.4,434.7 M694.8,483.4 L697.0,483.4 L697.0,479.4 L697.0,474.8 L697.1,474.8 L698.6,471.3 M697.9,483.6 L701.1,480.0 L701.1,477.6 L705.5,477.6 L707.6,472.8 L711.8,470.1 M702.4,434.7 L705.5,434.7 L705.5,433.9 M711.8,467.1 L708.8,465.8 M709.0,456.8 L711.9,456.8 M711.8,470.1 L711.8,467.1 L711.8,467.1 M711.8,467.1 L715.4,465.0 M717.1,472.6 L711.8,472.6 L711.8,470.1 M711.9,456.8 L716.0,462.0 M711.9,456.8 L711.9,452.1 L713.2,452.1 L714.5,447.3 L717.4,447.3 L717.4,443.1 L719.1,443.1 L719.1,438.5 M719.3,468.3 L719.3,465.0 L715.4,465.0 M715.4,465.0 L715.4,462.0 L716.0,462.0 M716.0,462.0 L716.0,460.8 L723.1,460.8 M650.7,505.7 L654.4,503.2 L654.4,501.3 L658.4,501.3 L662.9,500.8 M652.7,528.1 L652.7,526.6 L657.3,526.6 L661.2,523.8 L665.6,523.8 L665.6,521.9 L669.2,518.7 M663.5,541.9 L658.8,541.9 L658.8,540.3 L653.8,540.1 M662.9,500.8 L662.5,500.8 L662.5,496.4 L661.4,492.1 L660.3,487.9 M662.9,500.8 L662.9,503.0 L667.6,503.0 L672.7,503.0 L672.7,504.3 M678.2,548.2 L672.8,547.3 L667.9,547.3 L667.9,545.1 L667.9,541.9 L663.5,541.9 M663.5,541.9 L667.0,541.9 L667.0,539.2 L667.0,534.5 L667.8,534.5 L667.8,531.9 L671.4,531.9 L673.6,528.3 M673.6,528.3 L670.7,523.8 L669.2,518.7 M669.2,518.7 L669.2,514.7 L673.1,514.7 L673.1,509.8 L675.8,509.8 M675.8,509.8 L672.7,504.3 M672.7,504.3 L672.7,500.9 L675.4,500.9 L675.4,497.3 L677.8,497.3 L677.9,497.3 L677.9,492.5 L681.0,489.4 L681.0,485.5 L682.8,485.5 M673.6,528.3 L673.6,529.7 L679.3,529.7 M693.2,516.7 L689.3,513.9 L684.3,513.8 L679.8,513.8 L679.8,512.3 L679.8,509.8 L675.8,509.8 M685.8,554.3 L681.7,551.6 L681.7,548.2 L678.2,548.2 M679.3,529.7 L679.3,534.3 L679.8,534.3 L678.6,538.9 L677.5,543.5 L677.5,548.2 L678.2,548.2 M693.2,516.7 L693.2,520.1 L689.9,520.1 L686.0,522.9 L682.0,525.6 L679.3,525.6 L679.3,529.7 M694.4,516.8 L693.2,516.7 M719.8,500.3 L715.6,500.3 L715.6,499.0 L712.8,495.6 L712.8,492.9 L709.4,492.9 L709.4,492.2 L704.9,492.2 L704.9,488.6 L702.2,488.6 L697.8,488.6 L697.8,487.7 L697.8,485.4 L694.2,485.4 M695.3,514.3 L695.3,514.3 L700.0,514.3 L704.5,512.6 L709.2,512.4 M696.8,527.6 L700.6,527.6 L700.6,528.9 M700.6,528.9 L704.9,528.9 L708.9,528.9 L708.9,529.8 L712.5,529.8 L712.5,531.9 M704.9,537.9 L701.7,537.9 L701.7,535.2 L701.7,534.1 L697.6,534.1 M704.4,541.3 L704.9,537.9 M712.5,531.9 L712.5,534.7 L708.5,534.7 L704.9,537.9 M709.2,512.4 L710.8,512.4 L710.8,516.8 L713.4,516.8 L713.4,520.7 L714.1,525.5 L714.1,529.3 L717.0,529.3 M709.2,512.4 L711.5,512.4 L711.5,509.0 L715.2,506.9 L715.2,503.7 L717.8,503.7 M717.3,531.4 L712.5,531.9 M717.3,531.4 L717.3,529.3 L717.0,529.3 M717.0,529.3 L717.0,526.2 L720.3,526.2 L720.3,522.7 L723.1,522.7 L723.1,518.5 L724.9,518.5 M722.9,537.3 L722.9,533.9 L720.6,533.9 L717.3,533.9 L717.3,531.4 M724.9,518.5 L724.9,514.3 L724.2,514.3 L724.2,510.8 L722.0,510.8 L719.6,510.8 L719.6,507.4 L717.8,503.7 M717.8,503.7 L719.8,503.7 L719.8,500.3 M719.8,500.3 L719.8,497.6 L725.0,497.6 M724.7,546.8 L724.7,541.9 L724.2,541.9 L722.9,541.9 L722.9,537.3 M722.9,537.3 L725.6,537.3 L725.6,533.5 L728.5,529.9 L732.1,529.9 L732.1,527.1 L735.7,527.1 L735.7,524.2 L735.7,521.1 L739.0,521.1 M739.0,521.1 L734.5,519.3 L734.5,518.5 L729.8,518.5 L724.9,518.5 L724.9,518.5 M732.5,500.4 L725.0,500.4 L725.0,497.6 M725.0,497.6 L726.3,497.6 L726.3,492.8 L726.3,488.0 L725.3,488.0 M725.3,488.0 L725.3,483.2 M746.1,517.2 L742.4,514.6 L740.1,514.6 L740.1,510.9 L740.1,506.7 L738.5,506.7 L738.5,503.4 L735.6,503.4 L732.5,500.4 M733.1,499.9 L733.1,496.2 L735.0,496.2 L737.3,496.2 L737.3,492.6 L740.1,489.5 L740.1,486.1 L742.7,486.1 M750.9,492.3 L746.2,493.5 L741.9,495.8 L737.1,495.8 L737.1,497.0 L737.1,499.9 L733.1,499.9 M739.0,521.1 L742.6,521.1 L742.6,519.2 L746.1,519.2 L746.1,517.2 M741.0,482.9 L742.7,482.9 L742.7,486.1 M742.7,486.1 L742.7,486.6 L750.4,486.6 M758.7,520.9 L754.2,520.9 L754.2,520.9 L750.5,517.9 L746.1,517.9 L746.1,517.2 M750.4,486.6 L750.9,492.3 M750.4,486.6 L752.6,482.1 L755.3,482.1 L755.3,477.9 L755.3,473.4 L757.5,473.4 M750.9,492.3 L750.9,495.1 L754.8,495.1 L754.8,499.4 L757.4,499.4 L757.4,502.0 L761.5,502.0 M676.0,582.6 L673.2,579.5 L670.7,576.3 L669.0,572.5 L665.6,572.5 L665.6,569.9 M676.5,596.5 L676.5,591.8 L677.0,591.8 L676.9,587.2 L676.0,587.2 L676.0,582.6 M696.6,570.8 L696.6,574.2 L693.1,574.2 L688.5,574.2 L688.5,575.8 L684.0,575.8 L684.0,577.5 L680.0,577.5 L680.0,580.1 L676.0,580.1 L676.0,582.6 M688.5,563.9 L690.1,563.9 L690.1,565.7 L694.2,565.7 L694.2,567.3 L696.6,567.3 L696.6,570.8 M696.6,570.8 L703.2,570.8 L703.2,568.8 M703.2,568.8 L703.3,564.2 L701.1,559.9 L701.3,559.9 L701.3,555.4 L702.6,555.4 L702.6,550.7 L701.5,546.3 L700.6,546.3 L700.6,541.8 M709.2,573.2 L703.2,573.2 L703.2,568.8 M715.2,592.2 L712.8,592.2 L712.8,587.7 L713.1,582.4 L711.1,582.4 L711.1,577.9 L709.2,577.9 L709.2,573.2 M709.2,573.2 L712.3,570.3 L712.3,570.1 L717.1,570.1 L720.2,567.1 L723.8,565.1 L727.8,563.5 L731.5,561.6 L734.1,561.6 L734.1,557.7 L738.2,557.7 L738.2,556.5 M626.5,635.3 L626.5,633.3 L623.5,633.3 M624.1,610.9 L625.3,615.4 L625.3,618.4 L629.2,618.4 L629.2,623.1 L629.8,623.1 L633.0,626.5 L635.6,626.5 L635.6,630.2 L637.0,634.5 M653.3,606.7 L649.8,606.7 L649.8,600.2 M653.3,606.7 L658.0,608.0 L658.0,607.2 L662.7,607.2 L662.7,606.6 L667.4,606.6 L667.4,607.5 L672.0,607.5 M660.9,632.6 L660.9,628.2 L659.9,628.2 L657.7,624.1 L656.1,619.9 L656.8,619.9 L656.8,615.1 L656.8,610.8 L655.3,610.8 L653.3,610.8 L653.3,606.7 M681.4,624.8 L681.4,620.0 L680.0,620.0 L677.8,615.6 L677.8,612.1 L674.0,612.1 L674.0,607.5 L672.0,607.5 M672.0,607.5 L672.0,603.0 L675.6,603.0 L675.6,597.6 L677.6,597.6 M681.4,624.8 L681.4,630.9 L678.2,630.9 M698.5,603.7 L695.1,606.8 L692.8,606.8 L692.8,610.7 L692.8,614.0 L689.6,614.0 L687.7,614.0 L687.7,618.3 L684.7,621.6 L681.4,624.8 M698.5,603.7 L698.5,599.5 L698.5,599.5 L698.5,595.4 L698.2,595.4 M717.6,623.8 L717.6,619.7 L715.2,619.7 L712.0,619.7 L712.0,616.4 L708.0,613.7 L708.0,609.6 L705.6,609.6 L705.6,607.6 L701.1,607.6 L698.5,603.7 M727.3,591.8 L730.1,595.3 L730.1,599.2 L732.2,599.2 L735.3,602.6 L736.8,606.9 M602.2,669.6 L601.2,669.6 L601.2,668.2 M613.1,719.7 L615.6,717.4 L615.6,714.4 L618.7,714.4 L622.6,714.4 L622.6,712.5 L625.4,709.2 L625.4,706.4 L628.6,706.4 L632.6,704.6 L632.6,700.4 L634.7,700.4 L634.7,698.6 L638.7,698.6 M638.7,698.6 L637.2,694.6 L637.2,692.0 L633.6,692.0 L632.2,687.9 L632.2,687.5 M651.5,656.5 L651.5,658.4 L648.0,658.4 L644.5,660.4 L641.1,662.6 L641.1,663.7 L637.1,663.7 L633.1,663.7 L633.1,664.6 L630.4,666.3 M638.7,698.6 L644.3,698.6 L644.3,699.3 L650.0,699.3 L650.0,699.3 M681.4,711.9 L677.3,711.0 L677.3,710.2 L673.1,710.2 L673.1,711.1 L668.8,711.1 L668.8,709.8 L666.4,709.8 M662.7,709.3 L660.5,709.3 L660.5,709.2 L656.3,709.2 L652.1,709.2 L652.1,708.9 M688.0,651.3 L688.0,650.7 L683.6,650.7 L683.6,652.3 L679.2,652.3 L674.8,652.2 L670.4,652.2 L670.4,652.0 M670.4,652.0 L666.1,652.0 L661.7,652.0 M661.7,652.0 L661.7,650.0 M661.7,652.0 L661.7,652.1 L657.3,652.1 L657.3,651.2 L652.9,651.2 M681.4,711.9 L681.1,711.9 L681.1,707.8 L679.9,704.0 L679.6,704.0 L679.6,699.9 L679.3,699.5 M689.5,673.2 L689.5,675.3 L685.6,675.3 L681.0,675.8 L680.3,676.1 M687.1,716.2 L681.4,711.9 M684.1,631.5 L684.4,631.5 L684.4,635.6 L684.7,639.6 L685.6,643.5 L686.0,643.5 L686.0,647.6 L686.0,651.3 L688.0,651.3 M700.1,658.0 L700.1,656.5 L695.6,656.5 L691.4,654.5 L688.0,651.3 M689.5,673.2 L689.5,677.5 L690.2,677.5 L690.2,680.9 L692.6,680.9 L695.3,684.2 L695.3,687.5 L697.8,687.5 L697.8,692.1 L697.8,692.1 L697.8,695.4 L700.5,695.4 L702.1,699.2 L705.2,702.3 L705.2,706.2 L706.7,706.2 L706.7,710.5 L707.2,710.5 L709.9,713.8 M700.1,658.0 L700.1,661.4 L696.7,661.4 L695.0,665.8 L691.5,665.8 L691.5,669.0 L689.5,669.0 L689.5,673.2 M701.8,657.7 L700.1,658.0 M711.9,651.4 L711.9,650.0 L706.6,650.0 L706.6,650.7 L701.1,650.7 M705.4,666.1 L710.3,663.1 L710.3,659.2 L714.5,659.2 M721.9,673.7 L721.0,673.7 L721.0,673.8 M720.4,673.9 L716.3,673.9 L716.3,673.6 L716.3,672.6 L711.7,672.6 L707.1,672.1 M715.1,655.2 L715.1,651.4 L711.9,651.4 M711.9,651.4 L711.9,646.8 L716.3,646.8 M713.1,628.3 L713.5,628.3 L713.5,633.0 L713.7,633.0 L713.7,637.7 L716.4,642.0 L716.4,646.8 L716.3,646.8 M720.9,661.3 L714.5,661.3 L714.5,659.2 M714.5,659.2 L715.1,655.2 M719.5,653.7 L719.5,655.2 L715.1,655.2 M716.3,646.8 L720.2,649.3 M722.7,656.7 L722.7,653.7 L719.5,653.7 M719.5,653.7 L720.2,649.3 M720.2,649.3 L725.9,649.3 L725.9,647.6 M725.7,673.2 L725.7,669.6 L724.1,669.6 L723.3,665.1 L720.9,661.3 M720.9,661.3 L722.7,661.3 L722.7,656.7 M727.9,654.9 L722.7,654.9 L722.7,656.7 M727.9,654.9 L725.9,647.6 M725.9,647.6 L725.9,643.5 L727.1,643.5 L727.1,639.7 L729.0,639.7 L730.7,636.0 L734.4,636.0 L734.4,633.2 L734.8,628.6 L737.3,625.2 M736.7,660.2 L736.7,663.7 L734.2,663.7 L731.4,667.0 L731.4,671.0 L729.3,671.0 L726.0,671.0 L726.0,673.1 M736.7,660.2 L732.3,660.2 L732.3,657.6 L727.9,654.9 M734.4,686.9 L736.3,686.9 L736.3,687.6 L740.6,688.3 L744.7,688.3 L744.7,690.1 M756.4,651.9 L756.4,653.1 L752.2,653.1 L748.9,656.1 L744.4,656.1 L744.4,656.4 L744.4,657.4 L740.2,657.4 L736.7,660.2 M744.7,690.1 L745.0,694.7 L747.0,699.0 L747.4,703.6 L749.0,703.6 L749.0,707.9 L749.5,712.5 L749.5,716.8 L751.3,716.8 M744.7,690.1 L748.5,688.1 L748.5,684.0 L750.3,684.0 L750.3,680.8 L753.0,680.8 L757.1,680.8 L757.1,679.2 L759.9,679.2 L759.9,676.2 M780.2,698.6 L777.8,698.6 L777.8,694.9 L777.8,691.6 L775.0,691.6 L770.8,689.6 L770.8,686.2 L768.2,686.2 L765.8,686.2 L765.8,682.5 L765.8,680.0 L762.1,680.0 L759.9,680.0 L759.9,676.2 M759.9,676.2 L759.9,671.6 L760.1,671.6 L762.8,667.7 L762.8,663.0 M762.8,663.0 L764.3,663.0 L764.3,659.0 M687.9,730.0 L686.4,730.0 L686.4,726.0 L686.4,721.7 L686.3,721.7 L686.3,717.6 L685.0,717.6 M703.0,735.8 L704.9,731.9 L706.7,727.9 L705.8,727.9 L705.8,723.0 L708.7,723.0 L708.7,719.4 L708.7,715.0 L709.4,715.0 M725.3,736.4 L725.3,732.4 L724.0,732.4 L722.2,732.4 L722.2,728.6 L722.0,728.6 L722.0,724.3 L720.8,720.3 M739.9,732.8 L739.9,728.1 L740.1,728.1 L741.4,728.1 L741.4,723.5 L741.4,718.8 L741.0,718.8 M753.5,739.5 L755.9,739.5 L755.9,735.6 L758.8,731.8 L758.8,727.6 L760.8,727.6 L764.3,727.6 L764.3,724.4 M761.8,717.2 L764.3,724.4 M773.0,758.2 L773.0,754.9 L768.8,754.9 L764.4,752.1 M764.4,752.1 L764.4,749.2 L767.9,749.2 L770.5,749.2 L770.5,745.2 L775.2,743.7 L778.1,743.7 L778.1,740.1 L781.4,740.1 L781.4,737.0 M781.4,737.0 L778.4,737.0 L778.4,734.1 L774.7,732.1 L771.5,732.1 L771.5,729.4 L771.5,728.0 L767.4,728.0 L767.4,724.6 L764.8,724.6 M764.8,724.6 L764.8,723.6 L769.1,723.6 L773.2,721.6 L777.0,721.6 L777.0,719.1 L781.5,718.5 M767.2,769.8 L770.6,769.8 L770.6,768.9 M770.4,775.8 L770.4,773.4 L773.4,773.4 M773.3,771.0 L770.6,768.9 M770.6,768.9 L770.7,768.9 L770.7,763.3 L773.0,763.3 L773.0,758.2 M776.9,759.5 L773.0,759.5 L773.0,758.2 M773.4,773.4 L773.4,771.0 L773.3,771.0 M773.3,771.0 L773.3,767.6 L776.8,767.6 L776.8,765.3 L781.2,765.3 M786.8,780.6 L782.5,777.9 L777.8,777.9 L777.8,776.0 L773.4,776.0 L773.4,773.4 M781.2,765.3 L776.9,765.3 L776.9,759.5 M776.9,759.5 L780.1,759.5 L780.1,755.9 L784.2,753.4 M787.0,783.0 L782.4,786.2 L777.5,786.2 L777.5,788.7 M788.3,770.1 L785.3,766.8 L781.2,766.8 L781.2,765.3 M781.4,737.0 L786.7,737.0 L786.7,736.7 M784.2,753.4 L789.1,756.8 M784.2,753.4 L784.8,753.4 L784.8,749.2 L785.9,745.1 L786.9,745.1 L786.9,741.0 L786.7,741.0 L786.7,736.7 M787.0,783.0 L786.8,780.6 M786.8,780.6 L788.8,775.7 L788.6,770.4 M796.5,788.9 L791.6,786.1 L787.0,783.0 M789.1,756.8 L789.9,761.3 L789.6,765.7 L788.3,770.1 M803.0,764.4 L797.8,765.5 L793.6,765.5 L793.6,769.0 L788.6,769.0 L788.6,770.4 M796.3,753.4 L796.3,756.8 L789.1,756.8 M794.5,810.2 L794.5,808.8 L795.5,808.8 M795.5,808.8 L795.5,803.8 M795.5,803.8 L794.7,803.8 M795.5,803.8 L797.0,803.8 L797.0,798.9 L796.8,798.9 L796.8,793.9 L796.5,793.9 L796.5,788.9 M795.5,808.8 L798.2,808.2 M796.5,788.9 L800.7,788.9 L800.7,788.1 L804.6,788.1 L804.6,786.3 L808.8,785.3 M809.6,808.9 L804.0,808.9 L804.0,808.2 M804.0,808.2 L798.2,808.2 M798.2,808.2 L802.8,808.2 L802.8,806.2 L806.0,802.1 L810.4,802.1 L810.4,800.0 M806.8,829.2 L806.8,824.7 L807.9,824.7 L811.2,821.2 L811.9,816.6 L811.9,812.7 L814.0,812.7 M810.4,800.0 L810.0,800.0 L810.0,795.1 L810.0,790.0 L810.6,790.0 L808.8,785.3 M808.8,785.3 L808.8,782.4 L813.0,782.4 M814.0,812.7 L814.0,808.9 L809.6,808.9 M809.6,808.9 L809.6,804.3 L814.1,804.3 M810.4,800.0 L812.7,800.0 L812.7,801.3 M814.1,804.3 L814.1,801.3 L812.7,801.3 M812.7,801.3 L812.7,797.7 L818.7,797.7 M820.4,814.6 L814.4,814.6 L814.4,812.5 M814.4,812.5 L814.4,808.4 L816.8,808.4 M816.8,808.4 L816.8,804.7 L814.9,804.7 M814.9,804.7 L814.9,803.1 L819.7,803.1 M820.2,808.3 L816.8,808.3 L816.8,808.4 M749.0,643.1 L752.5,640.8 L756.4,639.2 L760.4,639.2 L760.4,638.1 M766.1,642.4 L766.1,638.1 L760.4,638.1 M760.4,638.1 L760.9,633.4 L763.5,629.6 L765.6,625.6 L765.6,621.3 L767.0,621.3 L768.7,617.1 M775.3,654.6 L773.3,649.9 L769.7,646.2 L769.7,642.4 L766.1,642.4 M788.1,635.7 L783.8,635.7 L783.8,637.3 L779.6,637.3 L779.6,639.4 L778.2,639.7 M774.3,640.5 L770.1,640.5 L770.1,639.9 L766.1,642.4 M770.5,662.4 L772.2,662.4 M772.3,662.3 L772.3,658.1 L773.9,658.1 M787.6,621.6 L786.5,626.4 L786.5,631.1 L786.9,631.1 L788.1,635.7 M792.7,674.0 L791.8,674.0 L791.8,669.7 L791.8,667.1 M788.1,637.6 L788.1,635.7 M801.0,650.0 L805.1,649.9 L805.1,649.4 L809.7,649.4 M756.8,617.2 L757.5,617.2 L757.5,612.9 L757.5,608.5 L756.9,608.5 L757.8,604.3 L757.8,600.0 L757.5,600.0 L757.5,595.7 L757.8,595.7 L758.3,591.4 M758.3,591.4 L758.3,588.7 L757.1,588.7 M759.0,591.8 L763.6,592.7 L763.6,595.8 L767.0,595.8 L771.6,596.5 L775.0,599.8 L775.0,601.9 L779.0,601.9 L783.3,601.9 L783.3,603.3 M773.1,611.3 L773.1,608.0 L770.8,608.0 L770.8,604.2 L769.3,604.2 L769.3,601.8 L765.7,601.8 L764.5,601.8 L764.5,597.8 L764.5,595.5 L760.8,595.5 L760.8,591.8 L759.0,591.8 M771.7,615.6 L773.1,615.6 L773.1,611.3 M777.4,611.4 L773.1,611.3 M778.5,614.7 L775.7,617.8 M778.5,614.7 L777.4,611.4 M783.3,603.3 L783.3,606.9 L779.8,606.9 L779.8,611.4 L777.4,611.4 M793.9,619.1 L793.9,619.2 L789.7,619.2 L786.1,619.2 L786.1,617.2 L782.5,617.2 L782.5,615.3 L782.5,614.7 L778.5,614.7 M783.3,603.3 L787.2,603.5 M787.2,603.5 L787.2,603.5 L787.2,598.6 L787.2,598.6 L787.2,593.7 L787.2,589.0 L785.3,589.0 L785.3,584.1 L785.4,584.1 M794.1,606.9 L787.2,606.9 L787.2,603.5 M793.9,619.1 L793.6,619.1 L793.6,615.1 L793.4,615.1 L793.4,611.0 L793.4,606.9 L794.1,606.9 M798.0,603.6 L794.1,603.6 L794.1,606.9 M799.0,599.6 L799.0,595.2 L799.3,595.2 L797.3,590.9 L796.4,586.6 L797.2,586.6 L797.2,582.0 M817.2,606.8 L812.2,606.8 L812.2,607.0 L807.5,606.0 L802.9,603.7 L798.0,603.6 M798.0,603.6 L799.0,599.6 M799.0,599.6 L799.0,597.6 L802.6,597.6 L805.7,597.6 L805.7,594.7 L809.8,593.6 M819.7,604.1 L819.7,599.8 L817.2,599.8 L813.8,599.8 L813.8,596.4 L813.8,593.6 L809.8,593.6 M809.8,593.6 L812.0,593.6 L812.0,588.9 L811.8,588.9 L811.8,583.6 L813.9,579.0 M816.4,632.8 L815.8,628.5 L816.3,624.2 L817.6,619.9 L817.6,615.5 L816.8,611.1 L817.2,606.8 M819.7,604.1 L817.2,606.8 M831.9,596.2 L827.9,598.9 L827.9,600.6 L823.2,600.6 L823.2,604.1 L819.7,604.1 M829.6,576.0 L829.6,579.9 L831.3,579.9 L831.3,584.1 L829.7,584.1 L829.7,588.0 L831.7,588.0 L832.3,592.0 L831.9,592.0 L831.9,596.2 M831.9,596.2 L836.1,598.9 L839.4,602.5 L843.5,602.5 L843.5,605.3 L846.4,605.3 L846.4,609.5 M756.7,586.4 L756.5,586.4 L756.5,582.3 L756.5,578.5 L754.4,578.5 L754.7,574.4 M782.1,583.4 L779.1,579.6 L777.1,579.6 L777.1,575.2 L775.4,570.6 L775.4,566.2 L773.6,566.2 M778.8,558.3 L783.6,559.5 L788.4,560.9 L788.4,561.1 L793.4,561.1 L798.3,561.1 L798.3,561.5 M794.0,537.8 L793.1,537.0 M794.0,537.8 L797.9,537.8 L797.9,538.1 M797.9,538.1 L797.9,539.5 M797.9,538.1 L802.3,538.1 L802.3,540.4 L806.1,540.4 L810.4,540.4 L810.4,539.8 M799.6,560.3 L797.4,556.1 L796.7,551.4 L795.2,547.0 L796.2,542.0 L794.0,537.8 M798.3,561.5 L798.4,561.5 L798.4,566.5 L797.4,571.3 L797.4,576.3 L797.5,576.3 L797.5,581.1 L795.8,581.1 M798.3,561.5 L799.6,560.3 M811.2,558.6 L805.3,558.4 L799.6,558.4 L799.6,560.3 M815.0,548.0 L811.9,544.3 L810.4,539.8 M810.4,539.8 L810.4,536.4 L813.7,536.4 L815.4,536.4 L815.4,532.1 L815.4,527.6 L816.7,527.6 L819.7,524.0 M818.7,562.3 L818.7,562.2 L814.6,562.2 L811.2,558.6 M811.2,558.6 L811.2,553.6 L814.1,553.6 L815.0,548.0 M815.0,548.0 L820.3,547.6 L825.1,547.6 L825.1,545.3 L830.4,545.0 M833.7,556.7 L833.7,558.9 L831.8,558.9 M833.7,556.7 L831.5,553.1 L831.8,553.1 L831.8,548.9 L830.4,548.9 L830.4,545.0 M830.4,545.0 L830.4,540.1 L833.0,540.1 M846.1,560.6 L842.1,558.8 L837.6,558.8 L833.7,556.7 M779.1,552.4 L775.1,552.4 L775.1,550.2 L771.9,550.2 L771.9,547.2 L771.9,543.1 L769.7,543.1 L767.0,539.7 L762.8,537.6 L760.7,537.6 L760.7,533.4 L756.6,531.4 L754.0,527.8 M767.9,487.5 L761.0,487.5 L761.0,487.8 M763.5,502.8 L767.7,502.7 L771.3,502.7 L771.3,500.6 M771.3,500.6 L771.3,496.3 L770.1,496.3 M770.1,496.3 L770.1,491.6 L767.9,491.6 L767.9,487.5 M767.9,487.5 L772.0,486.0 L776.2,484.6 M775.6,515.4 L775.6,510.2 L775.2,510.2 L774.1,510.2 L774.1,505.3 L771.5,505.3 L771.5,500.7 M771.5,500.7 L776.0,500.7 L776.0,499.6 L776.0,499.2 L780.7,499.2 L784.8,499.2 L784.8,496.6 M784.8,490.6 L784.8,486.8 L781.0,486.8 L776.2,484.6 M776.2,484.6 L775.3,484.6 L775.3,480.0 L775.8,475.5 L776.9,475.5 L776.9,471.1 L776.9,466.6 L777.0,466.6 M784.8,496.6 L784.8,490.6 M798.5,483.5 L798.5,485.9 L793.9,485.9 L789.2,488.0 L784.8,490.6 M790.0,512.8 L789.2,512.8 L789.2,508.6 L788.1,504.5 L788.1,500.4 L787.1,500.4 L787.1,496.6 L784.8,496.6 M793.4,463.6 L794.6,467.6 L795.9,471.5 L796.5,475.5 L797.6,479.5 L798.5,483.5 M807.8,487.5 L803.5,484.8 L803.5,483.5 L798.5,483.5 M809.0,509.3 L807.7,509.3 L807.7,505.0 L807.6,505.0 L807.6,500.6 L807.8,496.3 L807.3,491.9 L807.3,487.5 L807.8,487.5 M807.8,487.5 L812.6,487.5 L812.6,485.8 L816.0,481.9 L820.4,481.9 L820.4,479.5 M816.9,459.0 L816.9,463.1 L817.7,463.1 L817.7,467.2 L818.3,467.2 L818.3,471.5 L818.1,471.5 L818.6,475.6 L820.4,479.5 M820.4,479.5 L826.9,479.5 L826.9,482.3 M829.4,486.7 L828.8,486.7 L828.8,490.8 L826.7,490.8 L826.7,494.4 L826.9,498.7 L824.1,502.2 L823.9,502.2 L823.9,506.3 M829.4,486.7 L826.9,482.3 M826.9,482.3 L830.5,482.3 L830.5,479.9 L834.6,478.2 L838.2,478.2 L838.2,475.9 L841.8,473.5 L841.8,470.2 L844.9,470.2 L848.7,470.2 L848.7,468.1 M831.9,488.1 L829.4,486.7 M837.7,496.6 L837.7,492.8 L834.2,492.8 L831.9,488.1 M831.9,488.1 L837.0,488.2 L837.0,488.1 L842.1,488.1 M837.6,503.4 L837.7,503.4 L837.7,496.6 M843.8,495.2 L837.7,496.6 M845.1,492.4 L845.1,488.1 L842.1,488.1 M842.1,488.1 L846.2,488.1 L846.2,483.8 M846.5,499.4 L843.8,499.4 L843.8,495.2 M843.8,495.2 L845.1,492.4 M845.1,492.4 L845.1,492.2 L847.4,492.2 M847.4,492.2 L850.6,494.9 M850.5,487.5 L847.4,492.2 M780.0,456.3 L776.3,456.3 L776.3,453.7 L772.3,453.7 L772.3,451.4 M789.1,449.6 L785.4,449.6 L785.4,447.9 L785.4,445.6 L782.0,445.6 L778.2,445.6 L778.2,444.1 M780.7,464.7 L781.5,460.4 L781.5,456.3 L780.0,456.3 M789.1,449.6 L789.1,451.9 L783.8,451.9 L783.8,456.3 L780.0,456.3 M795.9,461.9 L793.5,457.9 L791.1,457.9 L791.1,453.9 L789.1,449.6 M789.1,449.6 L789.1,445.4 L791.9,445.4 M791.9,445.4 L791.3,441.0 L789.5,436.9 M791.9,445.4 L797.4,445.4 L797.4,445.6 M797.4,445.6 L797.4,446.5 M797.4,445.6 L803.0,445.6 M804.4,446.8 L803.0,446.8 L803.0,445.6 M803.0,445.6 L803.0,441.6 L803.5,441.6 L803.4,437.5 L803.5,433.4 M803.2,460.5 L804.7,456.0 L804.7,451.4 M804.7,451.4 L804.4,451.4 L804.4,446.8 M814.7,445.9 L814.7,445.9 L809.5,445.9 L804.4,446.8 M817.1,442.9 L814.5,442.9 L814.5,439.0 L814.5,434.4 L813.6,434.4 L811.6,434.4 L811.6,430.2 M817.8,457.5 L817.5,457.5 L817.5,453.5 L817.5,450.1 L814.5,450.1 L814.7,445.9 M814.7,445.9 L817.1,442.9 M823.7,441.8 L823.7,442.9 L817.1,442.9 M817.1,424.6 L821.7,424.6 L821.7,425.7 L821.7,427.0 L826.2,427.0 M819.7,408.8 L825.7,409.2 L831.1,409.2 L831.1,411.7 M829.8,446.1 L823.7,441.8 M823.7,441.8 L826.2,438.2 L826.4,438.2 L826.4,437.6 M826.2,427.9 L826.2,427.0 M826.2,427.0 L828.4,421.6 L832.6,421.6 M832.7,421.4 L832.7,417.7 M837.8,433.4 L835.1,433.0 M836.0,405.9 L833.6,405.9 L833.6,402.0 L833.6,398.2 L831.1,398.2 L829.5,393.8 M831.2,454.7 L829.7,454.7 L829.7,450.6 L829.8,446.1 M829.8,446.1 L834.2,442.2 L834.2,439.6 L839.6,439.6 M832.7,417.7 L832.7,411.7 L831.1,411.7 M831.1,411.7 L836.0,411.7 L836.0,405.9 M844.8,422.1 L841.0,419.9 L836.4,420.0 L832.7,417.7 M836.0,405.9 L843.7,405.9 L843.7,405.0 M839.6,439.6 L837.8,439.6 L837.8,433.4 M837.8,433.4 L841.8,429.1 L841.8,424.3 L845.1,424.3 M844.6,442.4 L839.6,439.6 M846.2,448.8 L842.4,451.4 L840.2,455.4 M845.8,402.2 L843.0,398.0 L843.0,392.6 M843.0,392.6 L840.7,392.6 L840.7,388.3 M848.4,416.6 L847.7,416.6 L847.7,412.4 L846.3,412.4 L846.3,408.4 L846.3,405.0 L843.7,405.0 M843.7,405.0 L845.8,402.2 M846.2,448.8 L846.2,442.4 L844.6,442.4 M844.6,442.4 L848.2,439.6 L848.2,437.0 L852.1,437.0 M845.1,424.3 L845.1,422.1 L844.8,422.1 M844.8,422.1 L848.4,416.6 M850.7,427.1 L849.0,427.1 L849.0,424.3 L845.1,424.3 M845.8,402.2 L850.5,402.2 L850.5,400.3 L855.6,400.0 M853.6,451.8 L846.2,448.8 M848.4,416.6 L848.4,415.1 L852.3,415.1 L856.5,415.1 L856.5,416.0 L860.3,414.5 M855.8,456.6 L854.3,461.2 L851.7,461.2 L851.7,465.1 M861.1,442.7 L856.3,442.7 L856.3,440.4 L852.1,437.0 M852.1,437.0 L852.3,434.3 M860.4,428.4 L863.7,426.4 M855.8,456.6 L853.6,456.6 L853.6,451.8 M853.6,451.8 L853.6,447.0 L857.1,447.0 L861.1,442.7 M866.8,457.4 L861.3,456.3 L861.3,456.6 L855.8,456.6 M864.7,442.1 L861.1,442.7 M846.7,482.2 L854.3,482.2 L854.3,479.8 M853.5,474.4 L848.5,474.4 L848.5,472.7 M858.3,495.3 L852.9,493.4 M853.2,488.2 L856.7,485.6 M854.3,479.8 L853.5,479.8 L853.5,474.4 M855.9,472.8 L853.5,474.4 M856.7,485.6 L856.7,480.0 L854.5,480.0 M854.5,480.0 L859.7,480.0 L859.7,478.6 M860.1,475.0 L855.9,475.0 L855.9,472.8 M855.9,472.8 L856.8,472.8 L856.8,468.4 M858.5,485.9 L856.7,485.6 M863.0,503.2 L860.4,499.4 L858.3,495.3 M858.3,495.3 L861.4,489.9 M861.4,489.9 L858.5,485.9 M861.6,482.7 L858.5,485.9 M859.7,478.6 L861.6,482.7 M859.7,478.6 L859.7,476.9 L860.6,476.9 M860.6,476.9 L860.6,475.0 L860.1,475.0 M860.1,475.0 L863.1,475.0 L863.1,471.0 M865.8,477.4 L860.6,476.9 M865.3,489.3 L865.3,489.9 L861.4,489.9 M861.6,482.7 L864.7,482.7 L864.7,483.0 M821.9,517.1 L821.9,513.5 L818.6,513.5 L816.8,509.0 M819.9,522.8 L821.9,522.8 L821.9,517.1 M821.9,517.1 L827.6,517.1 L827.6,518.0 M824.1,524.3 L824.1,520.9 L828.2,520.9 M829.9,528.3 L825.1,528.3 L825.1,528.1 M829.4,515.6 L829.4,511.1 L828.7,511.1 L827.0,506.9 M828.2,520.9 L827.6,518.0 M827.6,518.0 L829.4,515.6 M832.1,524.1 L828.2,520.9 M829.4,515.6 L829.4,516.3 L833.9,516.3 L838.4,517.0 L843.0,516.3 M834.9,539.5 L832.2,539.5 L832.2,536.3 L832.2,532.3 L830.9,532.3 L829.9,532.3 L829.9,528.3 M829.9,528.3 L832.1,528.3 L832.1,524.1 M844.1,521.4 L844.1,521.6 L839.9,521.6 L836.2,523.6 L832.1,523.6 L832.1,524.1 M875.1,453.5 L867.2,453.3 M874.9,445.2 L876.5,450.9 M877.1,458.8 L875.1,453.5 M876.5,450.9 L875.1,453.5 M884.0,450.3 L884.0,450.9 L876.5,450.9 M887.2,455.1 L884.0,455.1 L884.0,450.3 M884.0,450.3 L884.0,442.7 L884.9,442.7 M893.6,446.9 L899.4,446.9 L899.4,443.4 M881.3,430.9 L879.6,430.9 L879.6,428.6 M881.3,430.9 L881.3,432.7 L886.9,432.7 L886.9,433.8 L892.7,433.8 M884.7,441.6 L883.6,441.6 L883.6,436.0 L881.3,430.9 M894.5,439.1 L892.7,433.8 M892.7,433.8 L892.7,431.1 L894.8,431.1 M894.8,431.1 L893.1,431.1 L893.1,425.6 M898.5,431.4 L898.5,431.1 L894.8,431.1 M900.0,434.3 L900.0,438.7 L896.2,438.7 M896.8,423.9 L900.5,423.9 L900.5,428.3 M900.0,434.3 L900.0,431.4 L898.5,431.4 M900.5,428.3 L898.5,428.3 L898.5,431.4 M903.4,435.0 L900.0,435.0 L900.0,434.3 M900.5,428.3 L902.3,428.1 M904.1,447.1 L903.7,447.1 L903.7,443.1 L903.9,439.0 L903.9,435.0 L903.4,435.0 M903.4,435.0 L903.4,433.2 L905.7,433.2 M895.6,404.5 L891.6,404.5 L891.6,405.9 L891.6,406.4 L887.4,406.4 L883.6,408.8 L879.6,409.8 L879.6,410.2 L875.3,410.2" fill="none" stroke="#fff" stroke-width="1.1" stroke-opacity="0.9" stroke-linejoin="round"/>
<path d="M261.1,773.1 L264.1,771.3 L268.2,771.9 L268.8,775.5 L267.0,777.6 L262.9,777.3 L260.3,774.9Z" fill="#025383" />
<path d="M250.4,778.6 L253.6,776.6 L254.0,777.2 L250.9,779.3Z" fill="#025383" />
<path d="M291.5,785.0 L295.1,782.6 L297.4,785.0 L299.8,788.0 L300.4,789.8 L297.4,790.4 L295.1,788.6 L292.1,787.4Z" fill="#025383" />
<path d="M310.0,793.5 L313.0,793.0 L320.1,793.6 L319.5,795.2 L312.0,795.0Z" fill="#025383" />
<path d="M315.3,798.7 L317.0,799.0 L317.7,801.7 L315.8,801.0Z" fill="#025383" />
<path d="M322.5,797.5 L324.9,798.1 L327.2,799.9 L330.8,799.3 L334.4,801.7 L334.4,804.1 L328.4,805.3 L326.0,802.9 L323.7,800.5Z" fill="#025383" />
<path d="M338.6,813.6 L342.7,816.0 L348.7,820.8 L353.5,825.0 L358.8,828.5 L355.8,831.5 L349.9,833.9 L343.9,835.7 L338.6,835.1 L337.4,829.1 L335.0,823.2 L336.8,818.4Z" fill="#025383" />
<path d="M837.2,511.7 L839.5,511.7 L838.8,519.5 L840.3,529.7 L845.8,535.2 L848.1,539.1 L850.5,542.2 L849.7,546.9 L849.7,554.7 L851.3,559.4 L853.0,562.0 L856.0,566.0 L851.0,568.0 L846.0,562.0 L845.8,554.7 L843.4,546.9 L840.3,540.6 L839.5,535.2 L836.4,527.3 L835.6,519.5Z" fill="#fff" />
<path d="M134.0,293.0 L137.0,292.0 L138.0,294.0 L136.0,297.0 L134.0,296.0Z" fill="#025383" />
<path d="M910.5,447.0 L914.0,446.5 L914.5,448.5 L911.0,448.5Z" fill="#025383" />
<path d="M920.5,448.5 L923.5,448.0 L924.0,449.8 L921.0,450.0Z" fill="#025383" />
</svg>
<div class="a title" id="t_title">Election 2022 Results and Live Updates</div>
<svg class="a" style="left:19px;top:44px" width="15" height="15" viewBox="0 0 15 15"><circle cx="7.5" cy="7.5" r="6.5" fill="#f1c9cc"/><circle cx="7.5" cy="7.5" r="3.2" fill="#d0101c"/></svg>
<div class="a upd" id="t_upd">Last Updated: November 14, 9:19:30PM ET</div>
<svg class="a" style="left:890px;top:46px" width="13" height="13" viewBox="0 0 13 13"><rect width="13" height="13" rx="1.5" fill="#111"/><path d="M7.2 13V8.1H5.6V6.3h1.6V4.9c0-1.6 1-2.5 2.4-2.5.7 0 1.3.1 1.4.1v1.6h-1c-.8 0-.9.4-.9.9v1.2h1.8l-.2 1.8H9.2V13z" fill="#fff"/></svg>
<svg class="a" style="left:933px;top:46px" width="15" height="13" viewBox="0 0 24 20"><path d="M24 2.4c-.9.4-1.8.7-2.8.8 1-.6 1.8-1.6 2.2-2.7-1 .6-2 1-3.1 1.2C19.3.7 18 0 16.6 0c-2.7 0-4.9 2.2-4.9 4.9 0 .4 0 .8.1 1.1C7.7 5.8 4.1 3.9 1.7.9c-.4.7-.7 1.6-.7 2.5 0 1.7.9 3.2 2.2 4.1-.8 0-1.6-.2-2.2-.6v.1c0 2.4 1.7 4.4 3.9 4.8-.4.1-.8.2-1.3.2-.3 0-.6 0-.9-.1.6 2 2.4 3.4 4.6 3.4-1.7 1.3-3.8 2.1-6.1 2.1-.4 0-.8 0-1.2-.1 2.2 1.4 4.8 2.2 7.5 2.2 9.1 0 14-7.5 14-14v-.6c1-.7 1.8-1.6 2.5-2.5z" fill="#111"/></svg>
<svg class="a" style="left:978px;top:47px" width="15" height="10" viewBox="0 0 15 10"><rect width="15" height="10" fill="#111"/><path d="M0.5 0.8L7.5 5.2L14.5 0.8" stroke="#fff" stroke-width="0.9" fill="none"/></svg>
<div class="a hr" id="t_hr">House Results*</div>
<div class="a sm" id="t_est" style="left:18px;top:118px">*estimate</div>
<div class="a sm" id="t_exit" style="left:18px;top:132px">Exit Polls</div>

<div class="circ" style="left:19px;top:175px"></div>
<svg class="a" style="left:28px;top:185px" width="24" height="24" viewBox="0 0 24 24">
<path fill="#2a78b4" d="M1.25,1.25 L2.66,3.1 L4.06,1.0 L5.0,4.06 L5.47,5.94 L9.7,6.9 L13.4,6.6 L18.1,6.2 L20.5,6.9 L21.2,8.75 L21.2,12.5 L22.8,15.3 L22.3,16.0 L21.0,14.0 L20.9,14.5 L20.5,22.8 L18.1,22.8 L18.1,16.25 L17.3,15.0 L16.6,16.2 L15.0,20.2 L14.0,22.4 L12.3,22.1 L13.4,18.3 L14.0,15.0 L10.2,14.6 L9.7,20 L10.2,22.3 L6.4,22.8 L6.9,20.9 L6.2,16.25 L5.94,13.4 L5.47,11.6 L4.06,10.6 L1.7,10.6 L1.0,9.7 L1.0,7.8 L1.7,5.5 L1.5,3.6 Z"/>
<g fill="#fff"><rect x="6.6" y="9.4" width="1.5" height="1.5"/><rect x="9.4" y="9.4" width="1.5" height="1.5"/><rect x="12.2" y="9.4" width="1.5" height="1.5"/><rect x="15" y="9.4" width="1.5" height="1.5"/><rect x="17.8" y="9.4" width="1.5" height="1.5"/><rect x="6.2" y="12.1" width="14.6" height="0.6"/></g>
</svg>
<div class="a party" id="t_dem" style="left:71px;top:178px">Democrats</div>
<div class="a num" id="t_206" style="left:70px;top:199.5px;color:#2a7ab0">206</div>
<div class="a" id="t_218" style="left:466px;top:211px;font-size:12.5px;color:#666">218 for control</div>
<div class="bar" style="left:18px;width:462px;background:#2077b4"></div>
<div class="bar" style="left:480px;width:38px;background:#cdcdcd"></div>
<div class="bar" style="left:518px;width:475px;background:#d02b2e"></div>
<div class="a" style="left:506px;top:227px;width:1.2px;height:19px;background:#111"></div>
<div class="a sub" id="t_222" style="left:18px;top:254px">222 Democrats up for election</div>

<div class="circ" style="left:949px;top:176px"></div>
<svg class="a" style="left:958px;top:185px" width="24" height="24" viewBox="0 0 24 24">
<path fill="#c8282d" d="M1.25,7 C1.25,3 4.5,1.25 10.2,1.25 C16,1.25 19.8,3 19.8,6.5 L19.8,18.8 C19.8,20.5 20.5,21.1 21.3,20.9 C22.1,20.7 22.3,19.7 22.4,18.4 L23.3,18.6 C23.3,20.8 22.5,22 21.1,22 C19.9,22 19.2,21.3 18.9,20.4 L18.9,21.9 L16.3,21.9 L16.3,17.9 L15.8,17.9 L15.8,21.9 L11.6,21.9 L11.6,17.7 L5,17.7 L5,21.9 L1.25,21.9 Z"/>
<g fill="#fff"><path d="M5.00,4.10 L5.56,5.44 L7.00,5.55 L5.90,6.49 L6.23,7.90 L5.00,7.15 L3.77,7.90 L4.10,6.49 L3.00,5.55 L4.44,5.44Z"/><path d="M10.40,4.10 L10.96,5.44 L12.40,5.55 L11.30,6.49 L11.63,7.90 L10.40,7.15 L9.17,7.90 L9.50,6.49 L8.40,5.55 L9.84,5.44Z"/><path d="M15.80,4.10 L16.36,5.44 L17.80,5.55 L16.70,6.49 L17.03,7.90 L15.80,7.15 L14.57,7.90 L14.90,6.49 L13.80,5.55 L15.24,5.44Z"/><rect x="1.25" y="10.3" width="18.6" height="0.6"/></g>
</svg>
<div class="a party" id="t_rep" style="right:66px;top:178px">Republicans</div>
<div class="a num" id="t_212" style="right:66px;top:199.5px;color:#c8313a">212</div>
<div class="a sub" id="t_213" style="right:13.5px;top:254px">213 Republicans up for election</div>

<div class="btn" style="top:304px;width:95px;height:30px;background:#000;box-shadow:0 1px 4px rgba(0,0,0,.15)"></div>
<svg class="a" style="left:39px;top:309px" width="20" height="20" viewBox="0 0 20 20"><circle cx="10.5" cy="9" r="6.3" fill="none" stroke="#fff" stroke-width="1.7"/><path d="M6 13.5L2 17.5" stroke="#fff" stroke-width="2" stroke-linecap="round"/><path d="M10.5 6v6M7.5 9h6" stroke="#fff" stroke-width="1.6"/></svg>
<div class="a" id="t_zin" style="left:61.5px;top:312px;font-size:13.5px;font-weight:bold;color:#fff">Zoom In</div>
<div class="btn" style="top:341.5px;width:107px;height:28.5px;background:#d4d4d4;box-shadow:0 1px 4px rgba(0,0,0,.12)"></div>
<svg class="a" style="left:39px;top:347px" width="20" height="20" viewBox="0 0 20 20"><circle cx="10.5" cy="9" r="6.3" fill="none" stroke="#bdbdbd" stroke-width="1.7"/><path d="M6 13.5L2 17.5" stroke="#bdbdbd" stroke-width="2" stroke-linecap="round"/><path d="M7.5 9h6" stroke="#bdbdbd" stroke-width="1.6"/></svg>
<div class="a" id="t_zout" style="left:61.5px;top:349.5px;font-size:13.5px;font-weight:bold;color:#bfbfbf">Zoom Out</div>
<div class="btn" style="top:379.3px;width:110.5px;height:29.2px;background:#d4d4d4;box-shadow:0 1px 4px rgba(0,0,0,.12)"></div>
<svg class="a" style="left:39px;top:385px" width="20" height="20" viewBox="0 0 20 20"><circle cx="9.5" cy="9" r="7" fill="none" stroke="#bdbdbd" stroke-width="1.7"/><path d="M7 6.5l5 5M12 6.5l-5 5" stroke="#bdbdbd" stroke-width="1.6"/></svg>
<div class="a" id="t_reset" style="left:62.5px;top:387.5px;font-size:13.5px;font-weight:bold;color:#bfbfbf">Reset Map</div>

<div class="sw" style="left:335px;top:860px;width:23px;background:#6f6f6f"></div>
<div class="a leg" style="left:366px;top:858px">No Election</div>
<div class="sw" style="left:437px;top:860px;width:23px;background:#464646"></div>
<div class="a leg" style="left:468px;top:858px">Awaiting Results</div>
<div class="sw" style="left:563px;top:860px;width:23px;background:#222"></div>
<div class="a leg" style="left:594px;top:858px">Counting Results</div>
<div class="a leg" style="left:368px;top:883px">Win</div><div class="a leg" style="left:393px;top:883px">Gain</div>
<div class="a leg" style="left:467px;top:883px">Win</div><div class="a leg" style="left:492px;top:883px">Gain</div>
<div class="a leg" style="left:561px;top:883px">Win</div><div class="a leg" style="left:587px;top:883px">Gain</div>
<div class="sw" style="left:366px;top:899px;width:23px;background:#025383"></div>
<svg class="a" style="left:393px;top:899px" width="23" height="11"><rect width="23" height="11" fill="url(#bs)"/></svg>
<div class="a leg" style="left:424px;top:898px">Dem.</div>
<div class="sw" style="left:465px;top:899px;width:23px;background:#aa0000"></div>
<svg class="a" style="left:492px;top:899px" width="23" height="11"><rect width="23" height="11" fill="url(#rs)"/></svg>
<div class="a leg" style="left:523px;top:898px">Rep.</div>
<div class="sw" style="left:559px;top:899px;width:23px;background:#5b1a8e"></div>
<svg class="a" style="left:587px;top:899px" width="23" height="11"><rect width="23" height="11" fill="url(#ps)"/></svg>
<div class="a leg" style="left:618px;top:898px">Other</div>

<div class="a" id="t_foot" style="left:18px;top:927px;font-size:11px;line-height:13px;color:#555;letter-spacing:-0.015px">Counties are colored red or blue when the % expected vote reporting reaches a set threshold. This threshold varies by state and is based on patterns of past vote reporting and expectations about how<br>the vote will report this year.</div>
</body></html>
